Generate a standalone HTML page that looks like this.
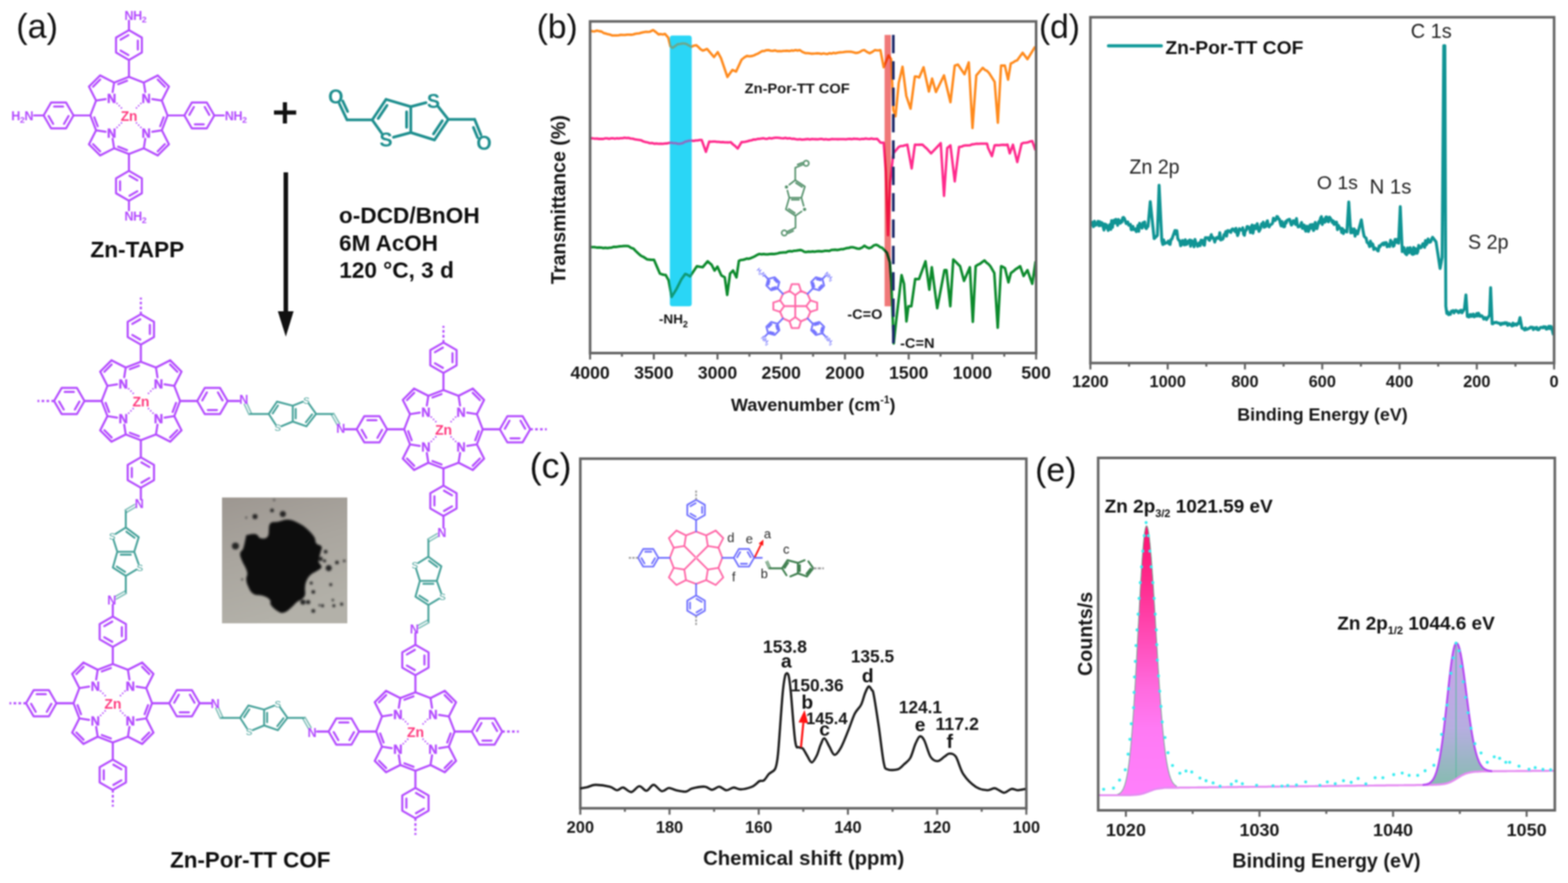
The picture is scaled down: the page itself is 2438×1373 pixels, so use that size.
<!DOCTYPE html>
<html><head><meta charset="utf-8"><title>Zn-Por-TT COF characterization</title>
<style>
html,body{margin:0;padding:0;background:#fff;}
body{width:2438px;height:1373px;overflow:hidden;}
svg{display:block;font-family:'Liberation Sans', Arial, Helvetica, sans-serif;filter:blur(1px);}
</style></head>
<body>
<svg width="2438" height="1373" viewBox="0 0 2438 1373">
<rect width="2438" height="1373" fill="#fff"/>
<text transform="translate(25.3,58.9) scale(1,1.0)" font-size="53.00" fill="#111">(a)</text>
<g transform="translate(200.50,179.50) rotate(0.00) scale(1.0000)">
<path d="M-25.4,-36.3 L-23.1,-51.1 M-36.3,-25.4 L-51.1,-23.1 M-23.1,-51.1 L-44.9,-62.2 M-44.9,-62.2 L-62.2,-44.9 M-62.2,-44.9 L-51.1,-23.1 M-23.1,-51.1 L0.0,-60.0 M-51.1,-23.1 L-60.0,0.0 M-44.7,-55.8 L-55.8,-44.7 M-16.8,-48.6 L-2.9,-53.9 M25.4,-36.3 L23.1,-51.1 M36.3,-25.4 L51.1,-23.1 M23.1,-51.1 L44.9,-62.2 M44.9,-62.2 L62.2,-44.9 M62.2,-44.9 L51.1,-23.1 M23.1,-51.1 L0.0,-60.0 M51.1,-23.1 L60.0,0.0 M44.7,-55.8 L55.8,-44.7 M-25.4,36.3 L-23.1,51.1 M-36.3,25.4 L-51.1,23.1 M-23.1,51.1 L-44.9,62.2 M-44.9,62.2 L-62.2,44.9 M-62.2,44.9 L-51.1,23.1 M-23.1,51.1 L0.0,60.0 M-51.1,23.1 L-60.0,0.0 M-44.7,55.8 L-55.8,44.7 M-48.6,16.8 L-53.9,2.9 M-16.8,48.6 L-2.9,53.9 M25.4,36.3 L23.1,51.1 M36.3,25.4 L51.1,23.1 M23.1,51.1 L44.9,62.2 M44.9,62.2 L62.2,44.9 M62.2,44.9 L51.1,23.1 M23.1,51.1 L0.0,60.0 M51.1,23.1 L60.0,0.0 M44.7,55.8 L55.8,44.7 M48.6,16.8 L53.9,2.9" fill="none" stroke="#b44cff" stroke-width="3.20" stroke-linecap="round" stroke-linejoin="round"/>
<path d="M0.0,-60.0 L0.0,-86.2 M0.0,-132.7 L20.1,-121.0 L20.1,-97.8 L0.0,-86.2 L-20.1,-97.8 L-20.1,-121.0Z M13.8,-116.4 L13.8,-102.4 M-0.9,-93.9 L-13.0,-100.9 M-13.0,-117.9 L-0.9,-124.9 M0.0,60.0 L0.0,86.2 M0.0,132.7 L-20.1,121.0 L-20.1,97.8 L-0.0,86.2 L20.1,97.8 L20.1,121.0Z M-13.8,116.4 L-13.8,102.4 M0.9,93.9 L13.0,100.9 M13.0,117.9 L0.9,124.9 M-60.0,0.0 L-86.2,0.0 M-132.7,0.0 L-121.0,-20.1 L-97.8,-20.1 L-86.2,-0.0 L-97.8,20.1 L-121.0,20.1Z M-116.4,-13.8 L-102.4,-13.8 M-93.9,0.9 L-100.9,13.0 M-117.9,13.0 L-124.9,0.9 M60.0,0.0 L86.2,0.0 M132.7,0.0 L121.0,20.1 L97.8,20.1 L86.2,0.0 L97.8,-20.1 L121.0,-20.1Z M116.4,13.8 L102.4,13.8 M93.9,-0.9 L100.9,-13.0 M117.9,-13.0 L124.9,-0.9" fill="none" stroke="#b44cff" stroke-width="3.20" stroke-linecap="round" stroke-linejoin="round"/>
<path d="M0.0,-132.7 L0.0,-147.5" fill="none" stroke="#b44cff" stroke-width="3.20" stroke-linecap="round"/>
<path d="M0.0,132.7 L0.0,147.5" fill="none" stroke="#b44cff" stroke-width="3.20" stroke-linecap="round"/>
<path d="M-132.7,0.0 L-147.5,0.0" fill="none" stroke="#b44cff" stroke-width="3.20" stroke-linecap="round"/>
<path d="M132.7,0.0 L147.5,0.0" fill="none" stroke="#b44cff" stroke-width="3.20" stroke-linecap="round"/>
<text x="-7.0" y="-149.0" font-size="19.5" font-weight="bold" fill="#b44cff" letter-spacing="-0.6">NH<tspan font-size="13.5" dy="4.5">2</tspan></text>
<text x="-7.0" y="163.0" font-size="19.5" font-weight="bold" fill="#b44cff" letter-spacing="-0.6">NH<tspan font-size="13.5" dy="4.5">2</tspan></text>
<text x="-149.0" y="7.0" font-size="19.5" font-weight="bold" text-anchor="end" fill="#b44cff" letter-spacing="-0.6">H<tspan font-size="13.5" dy="4.5">2</tspan><tspan dy="-4.5">N</tspan></text>
<text x="149.0" y="7.0" font-size="19.5" font-weight="bold" fill="#b44cff" letter-spacing="-0.6">NH<tspan font-size="13.5" dy="4.5">2</tspan></text>
<text x="-26.9" y="-19.4" font-size="19.5" text-anchor="middle" font-weight="bold" fill="#b44cff" stroke="#b44cff" stroke-width="0.6">N</text>
<path d="M-19.3,-19.3 L-9.7,-9.7" stroke="#b44cff" stroke-width="2.4" stroke-dasharray="2.2 2.6" fill="none"/>
<text x="26.9" y="-19.4" font-size="19.5" text-anchor="middle" font-weight="bold" fill="#b44cff" stroke="#b44cff" stroke-width="0.6">N</text>
<path d="M19.3,-19.3 L9.7,-9.7" stroke="#b44cff" stroke-width="2.4" stroke-dasharray="2.2 2.6" fill="none"/>
<text x="-26.9" y="34.4" font-size="19.5" text-anchor="middle" font-weight="bold" fill="#b44cff" stroke="#b44cff" stroke-width="0.6">N</text>
<path d="M-19.3,19.3 L-9.7,9.7" stroke="#b44cff" stroke-width="2.4" stroke-dasharray="2.2 2.6" fill="none"/>
<text x="26.9" y="34.4" font-size="19.5" text-anchor="middle" font-weight="bold" fill="#b44cff" stroke="#b44cff" stroke-width="0.6">N</text>
<path d="M19.3,19.3 L9.7,9.7" stroke="#b44cff" stroke-width="2.4" stroke-dasharray="2.2 2.6" fill="none"/>
<text x="0.0" y="8.2" font-size="21.5" text-anchor="middle" font-weight="bold" fill="#ff3d80" letter-spacing="-0.3">Zn</text>
</g>
<path d="M426,175 L460.5,175 M443,159 L443,192" stroke="#111" stroke-width="6.5" fill="none"/>
<path d="M539.5,186.4 L527.7,161.3 M540.5,173.3 L532.9,157.1 M539.5,186.4 L578.8,186.4 M578.8,186.4 L600.2,154.5 M600.2,154.5 L638.7,165.9 M638.7,165.9 L638.7,206.1 M578.8,186.4 L593.2,206.7 M611.8,213.4 L638.7,206.1 M638.7,165.9 L662.4,159.6 M681.4,165.9 L697.0,185.6 M697.0,185.6 L675.6,217.6 M675.6,217.6 L638.7,206.1 M697.0,185.6 L738.0,185.6 M738.0,185.6 L747.8,209.7 M736.1,198.2 L742.6,214.0 M588.0,184.3 L601.7,163.9 M632.2,173.9 L632.2,198.1 M687.7,187.7 L674.0,208.2" fill="none" stroke="#1f8f8f" stroke-width="4.30" stroke-linecap="round" stroke-linejoin="round"/>
<text x="600.2" y="228.0" font-size="30.5" text-anchor="middle" font-weight="bold" fill="#1f8f8f" >S</text>
<text x="674.0" y="168.0" font-size="30.5" text-anchor="middle" font-weight="bold" fill="#1f8f8f" >S</text>
<text x="522.2" y="161.0" font-size="30.5" text-anchor="middle" font-weight="bold" fill="#1f8f8f" >O</text>
<text x="752.7" y="233.2" font-size="30.5" text-anchor="middle" font-weight="bold" fill="#1f8f8f" >O</text>
<path d="M444.4,268 L444.4,488" stroke="#111" stroke-width="7" fill="none"/>
<path d="M432,484 L456.5,484 L444.4,523.5 Z" fill="#111"/>
<text x="527.1" y="347.2" font-size="35.16" font-weight="bold" fill="#0e0e0e" >o-DCD/BnOH</text>
<text x="527.3" y="390.0" font-size="34.84" font-weight="bold" fill="#0e0e0e" >6M AcOH</text>
<text x="527.4" y="431.7" font-size="35.19" font-weight="bold" fill="#0e0e0e" >120 °C, 3 d</text>
<text x="140.4" y="400.0" font-size="35.25" font-weight="bold" fill="#0e0e0e" >Zn-TAPP</text>
<g transform="translate(219.00,623.50) rotate(0.00) scale(1.0170)">
<path d="M-25.4,-36.3 L-23.1,-51.1 M-36.3,-25.4 L-51.1,-23.1 M-23.1,-51.1 L-44.9,-62.2 M-44.9,-62.2 L-62.2,-44.9 M-62.2,-44.9 L-51.1,-23.1 M-23.1,-51.1 L0.0,-60.0 M-51.1,-23.1 L-60.0,0.0 M-44.7,-55.8 L-55.8,-44.7 M-16.8,-48.6 L-2.9,-53.9 M25.4,-36.3 L23.1,-51.1 M36.3,-25.4 L51.1,-23.1 M23.1,-51.1 L44.9,-62.2 M44.9,-62.2 L62.2,-44.9 M62.2,-44.9 L51.1,-23.1 M23.1,-51.1 L0.0,-60.0 M51.1,-23.1 L60.0,0.0 M44.7,-55.8 L55.8,-44.7 M-25.4,36.3 L-23.1,51.1 M-36.3,25.4 L-51.1,23.1 M-23.1,51.1 L-44.9,62.2 M-44.9,62.2 L-62.2,44.9 M-62.2,44.9 L-51.1,23.1 M-23.1,51.1 L0.0,60.0 M-51.1,23.1 L-60.0,0.0 M-44.7,55.8 L-55.8,44.7 M-48.6,16.8 L-53.9,2.9 M-16.8,48.6 L-2.9,53.9 M25.4,36.3 L23.1,51.1 M36.3,25.4 L51.1,23.1 M23.1,51.1 L44.9,62.2 M44.9,62.2 L62.2,44.9 M62.2,44.9 L51.1,23.1 M23.1,51.1 L0.0,60.0 M51.1,23.1 L60.0,0.0 M44.7,55.8 L55.8,44.7 M48.6,16.8 L53.9,2.9" fill="none" stroke="#b44cff" stroke-width="3.20" stroke-linecap="round" stroke-linejoin="round"/>
<path d="M0.0,-60.0 L0.0,-86.2 M0.0,-132.7 L20.1,-121.0 L20.1,-97.8 L0.0,-86.2 L-20.1,-97.8 L-20.1,-121.0Z M13.8,-116.4 L13.8,-102.4 M-0.9,-93.9 L-13.0,-100.9 M-13.0,-117.9 L-0.9,-124.9 M-60.0,0.0 L-86.2,0.0 M-132.7,0.0 L-121.0,-20.1 L-97.8,-20.1 L-86.2,-0.0 L-97.8,20.1 L-121.0,20.1Z M-116.4,-13.8 L-102.4,-13.8 M-93.9,0.9 L-100.9,13.0 M-117.9,13.0 L-124.9,0.9 M60.0,0.0 L86.2,0.0 M132.7,0.0 L121.0,20.1 L97.8,20.1 L86.2,0.0 L97.8,-20.1 L121.0,-20.1Z M116.4,13.8 L102.4,13.8 M93.9,-0.9 L100.9,-13.0 M117.9,-13.0 L124.9,-0.9 M0.0,60.0 L0.0,86.2 M0.0,132.7 L-20.1,121.0 L-20.1,97.8 L-0.0,86.2 L20.1,97.8 L20.1,121.0Z M-13.8,116.4 L-13.8,102.4 M0.9,93.9 L13.0,100.9 M13.0,117.9 L0.9,124.9" fill="none" stroke="#b44cff" stroke-width="3.20" stroke-linecap="round" stroke-linejoin="round"/>
<path d="M0.0,-132.7 L0.0,-158.0" stroke="#b44cff" stroke-width="3.20" stroke-dasharray="4 3.5" fill="none"/>
<path d="M-132.7,0.0 L-158.0,0.0" stroke="#b44cff" stroke-width="3.20" stroke-dasharray="4 3.5" fill="none"/>
<path d="M132.7,0.0 L150.5,0.0" fill="none" stroke="#b44cff" stroke-width="3.20" stroke-linecap="round"/>
<path d="M0.0,132.7 L0.0,150.5" fill="none" stroke="#b44cff" stroke-width="3.20" stroke-linecap="round"/>
<text x="-26.9" y="-19.4" font-size="19.5" text-anchor="middle" font-weight="bold" fill="#b44cff" stroke="#b44cff" stroke-width="0.6">N</text>
<path d="M-19.3,-19.3 L-9.7,-9.7" stroke="#b44cff" stroke-width="2.4" stroke-dasharray="2.2 2.6" fill="none"/>
<text x="26.9" y="-19.4" font-size="19.5" text-anchor="middle" font-weight="bold" fill="#b44cff" stroke="#b44cff" stroke-width="0.6">N</text>
<path d="M19.3,-19.3 L9.7,-9.7" stroke="#b44cff" stroke-width="2.4" stroke-dasharray="2.2 2.6" fill="none"/>
<text x="-26.9" y="34.4" font-size="19.5" text-anchor="middle" font-weight="bold" fill="#b44cff" stroke="#b44cff" stroke-width="0.6">N</text>
<path d="M-19.3,19.3 L-9.7,9.7" stroke="#b44cff" stroke-width="2.4" stroke-dasharray="2.2 2.6" fill="none"/>
<text x="26.9" y="34.4" font-size="19.5" text-anchor="middle" font-weight="bold" fill="#b44cff" stroke="#b44cff" stroke-width="0.6">N</text>
<path d="M19.3,19.3 L9.7,9.7" stroke="#b44cff" stroke-width="2.4" stroke-dasharray="2.2 2.6" fill="none"/>
<text x="0.0" y="8.2" font-size="21.5" text-anchor="middle" font-weight="bold" fill="#ff3d80" letter-spacing="-0.3">Zn</text>
</g>
<g transform="translate(689.50,667.50) rotate(0.00) scale(1.0170)">
<path d="M-25.4,-36.3 L-23.1,-51.1 M-36.3,-25.4 L-51.1,-23.1 M-23.1,-51.1 L-44.9,-62.2 M-44.9,-62.2 L-62.2,-44.9 M-62.2,-44.9 L-51.1,-23.1 M-23.1,-51.1 L0.0,-60.0 M-51.1,-23.1 L-60.0,0.0 M-44.7,-55.8 L-55.8,-44.7 M-16.8,-48.6 L-2.9,-53.9 M25.4,-36.3 L23.1,-51.1 M36.3,-25.4 L51.1,-23.1 M23.1,-51.1 L44.9,-62.2 M44.9,-62.2 L62.2,-44.9 M62.2,-44.9 L51.1,-23.1 M23.1,-51.1 L0.0,-60.0 M51.1,-23.1 L60.0,0.0 M44.7,-55.8 L55.8,-44.7 M-25.4,36.3 L-23.1,51.1 M-36.3,25.4 L-51.1,23.1 M-23.1,51.1 L-44.9,62.2 M-44.9,62.2 L-62.2,44.9 M-62.2,44.9 L-51.1,23.1 M-23.1,51.1 L0.0,60.0 M-51.1,23.1 L-60.0,0.0 M-44.7,55.8 L-55.8,44.7 M-48.6,16.8 L-53.9,2.9 M-16.8,48.6 L-2.9,53.9 M25.4,36.3 L23.1,51.1 M36.3,25.4 L51.1,23.1 M23.1,51.1 L44.9,62.2 M44.9,62.2 L62.2,44.9 M62.2,44.9 L51.1,23.1 M23.1,51.1 L0.0,60.0 M51.1,23.1 L60.0,0.0 M44.7,55.8 L55.8,44.7 M48.6,16.8 L53.9,2.9" fill="none" stroke="#b44cff" stroke-width="3.20" stroke-linecap="round" stroke-linejoin="round"/>
<path d="M0.0,-60.0 L0.0,-86.2 M0.0,-132.7 L20.1,-121.0 L20.1,-97.8 L0.0,-86.2 L-20.1,-97.8 L-20.1,-121.0Z M13.8,-116.4 L13.8,-102.4 M-0.9,-93.9 L-13.0,-100.9 M-13.0,-117.9 L-0.9,-124.9 M60.0,0.0 L86.2,0.0 M132.7,0.0 L121.0,20.1 L97.8,20.1 L86.2,0.0 L97.8,-20.1 L121.0,-20.1Z M116.4,13.8 L102.4,13.8 M93.9,-0.9 L100.9,-13.0 M117.9,-13.0 L124.9,-0.9 M-60.0,0.0 L-86.2,0.0 M-132.7,0.0 L-121.0,-20.1 L-97.8,-20.1 L-86.2,-0.0 L-97.8,20.1 L-121.0,20.1Z M-116.4,-13.8 L-102.4,-13.8 M-93.9,0.9 L-100.9,13.0 M-117.9,13.0 L-124.9,0.9 M0.0,60.0 L0.0,86.2 M0.0,132.7 L-20.1,121.0 L-20.1,97.8 L-0.0,86.2 L20.1,97.8 L20.1,121.0Z M-13.8,116.4 L-13.8,102.4 M0.9,93.9 L13.0,100.9 M13.0,117.9 L0.9,124.9" fill="none" stroke="#b44cff" stroke-width="3.20" stroke-linecap="round" stroke-linejoin="round"/>
<path d="M0.0,-132.7 L0.0,-158.0" stroke="#b44cff" stroke-width="3.20" stroke-dasharray="4 3.5" fill="none"/>
<path d="M132.7,0.0 L158.0,0.0" stroke="#b44cff" stroke-width="3.20" stroke-dasharray="4 3.5" fill="none"/>
<path d="M-132.7,0.0 L-150.5,0.0" fill="none" stroke="#b44cff" stroke-width="3.20" stroke-linecap="round"/>
<path d="M0.0,132.7 L0.0,150.5" fill="none" stroke="#b44cff" stroke-width="3.20" stroke-linecap="round"/>
<text x="-26.9" y="-19.4" font-size="19.5" text-anchor="middle" font-weight="bold" fill="#b44cff" stroke="#b44cff" stroke-width="0.6">N</text>
<path d="M-19.3,-19.3 L-9.7,-9.7" stroke="#b44cff" stroke-width="2.4" stroke-dasharray="2.2 2.6" fill="none"/>
<text x="26.9" y="-19.4" font-size="19.5" text-anchor="middle" font-weight="bold" fill="#b44cff" stroke="#b44cff" stroke-width="0.6">N</text>
<path d="M19.3,-19.3 L9.7,-9.7" stroke="#b44cff" stroke-width="2.4" stroke-dasharray="2.2 2.6" fill="none"/>
<text x="-26.9" y="34.4" font-size="19.5" text-anchor="middle" font-weight="bold" fill="#b44cff" stroke="#b44cff" stroke-width="0.6">N</text>
<path d="M-19.3,19.3 L-9.7,9.7" stroke="#b44cff" stroke-width="2.4" stroke-dasharray="2.2 2.6" fill="none"/>
<text x="26.9" y="34.4" font-size="19.5" text-anchor="middle" font-weight="bold" fill="#b44cff" stroke="#b44cff" stroke-width="0.6">N</text>
<path d="M19.3,19.3 L9.7,9.7" stroke="#b44cff" stroke-width="2.4" stroke-dasharray="2.2 2.6" fill="none"/>
<text x="0.0" y="8.2" font-size="21.5" text-anchor="middle" font-weight="bold" fill="#ff3d80" letter-spacing="-0.3">Zn</text>
</g>
<g transform="translate(175.40,1093.50) rotate(0.00) scale(1.0170)">
<path d="M-25.4,-36.3 L-23.1,-51.1 M-36.3,-25.4 L-51.1,-23.1 M-23.1,-51.1 L-44.9,-62.2 M-44.9,-62.2 L-62.2,-44.9 M-62.2,-44.9 L-51.1,-23.1 M-23.1,-51.1 L0.0,-60.0 M-51.1,-23.1 L-60.0,0.0 M-44.7,-55.8 L-55.8,-44.7 M-16.8,-48.6 L-2.9,-53.9 M25.4,-36.3 L23.1,-51.1 M36.3,-25.4 L51.1,-23.1 M23.1,-51.1 L44.9,-62.2 M44.9,-62.2 L62.2,-44.9 M62.2,-44.9 L51.1,-23.1 M23.1,-51.1 L0.0,-60.0 M51.1,-23.1 L60.0,0.0 M44.7,-55.8 L55.8,-44.7 M-25.4,36.3 L-23.1,51.1 M-36.3,25.4 L-51.1,23.1 M-23.1,51.1 L-44.9,62.2 M-44.9,62.2 L-62.2,44.9 M-62.2,44.9 L-51.1,23.1 M-23.1,51.1 L0.0,60.0 M-51.1,23.1 L-60.0,0.0 M-44.7,55.8 L-55.8,44.7 M-48.6,16.8 L-53.9,2.9 M-16.8,48.6 L-2.9,53.9 M25.4,36.3 L23.1,51.1 M36.3,25.4 L51.1,23.1 M23.1,51.1 L44.9,62.2 M44.9,62.2 L62.2,44.9 M62.2,44.9 L51.1,23.1 M23.1,51.1 L0.0,60.0 M51.1,23.1 L60.0,0.0 M44.7,55.8 L55.8,44.7 M48.6,16.8 L53.9,2.9" fill="none" stroke="#b44cff" stroke-width="3.20" stroke-linecap="round" stroke-linejoin="round"/>
<path d="M-60.0,0.0 L-86.2,0.0 M-132.7,0.0 L-121.0,-20.1 L-97.8,-20.1 L-86.2,-0.0 L-97.8,20.1 L-121.0,20.1Z M-116.4,-13.8 L-102.4,-13.8 M-93.9,0.9 L-100.9,13.0 M-117.9,13.0 L-124.9,0.9 M0.0,60.0 L0.0,86.2 M0.0,132.7 L-20.1,121.0 L-20.1,97.8 L-0.0,86.2 L20.1,97.8 L20.1,121.0Z M-13.8,116.4 L-13.8,102.4 M0.9,93.9 L13.0,100.9 M13.0,117.9 L0.9,124.9 M0.0,-60.0 L0.0,-86.2 M0.0,-132.7 L20.1,-121.0 L20.1,-97.8 L0.0,-86.2 L-20.1,-97.8 L-20.1,-121.0Z M13.8,-116.4 L13.8,-102.4 M-0.9,-93.9 L-13.0,-100.9 M-13.0,-117.9 L-0.9,-124.9 M60.0,0.0 L86.2,0.0 M132.7,0.0 L121.0,20.1 L97.8,20.1 L86.2,0.0 L97.8,-20.1 L121.0,-20.1Z M116.4,13.8 L102.4,13.8 M93.9,-0.9 L100.9,-13.0 M117.9,-13.0 L124.9,-0.9" fill="none" stroke="#b44cff" stroke-width="3.20" stroke-linecap="round" stroke-linejoin="round"/>
<path d="M-132.7,0.0 L-158.0,0.0" stroke="#b44cff" stroke-width="3.20" stroke-dasharray="4 3.5" fill="none"/>
<path d="M0.0,132.7 L0.0,158.0" stroke="#b44cff" stroke-width="3.20" stroke-dasharray="4 3.5" fill="none"/>
<path d="M0.0,-132.7 L0.0,-150.5" fill="none" stroke="#b44cff" stroke-width="3.20" stroke-linecap="round"/>
<path d="M132.7,0.0 L150.5,0.0" fill="none" stroke="#b44cff" stroke-width="3.20" stroke-linecap="round"/>
<text x="-26.9" y="-19.4" font-size="19.5" text-anchor="middle" font-weight="bold" fill="#b44cff" stroke="#b44cff" stroke-width="0.6">N</text>
<path d="M-19.3,-19.3 L-9.7,-9.7" stroke="#b44cff" stroke-width="2.4" stroke-dasharray="2.2 2.6" fill="none"/>
<text x="26.9" y="-19.4" font-size="19.5" text-anchor="middle" font-weight="bold" fill="#b44cff" stroke="#b44cff" stroke-width="0.6">N</text>
<path d="M19.3,-19.3 L9.7,-9.7" stroke="#b44cff" stroke-width="2.4" stroke-dasharray="2.2 2.6" fill="none"/>
<text x="-26.9" y="34.4" font-size="19.5" text-anchor="middle" font-weight="bold" fill="#b44cff" stroke="#b44cff" stroke-width="0.6">N</text>
<path d="M-19.3,19.3 L-9.7,9.7" stroke="#b44cff" stroke-width="2.4" stroke-dasharray="2.2 2.6" fill="none"/>
<text x="26.9" y="34.4" font-size="19.5" text-anchor="middle" font-weight="bold" fill="#b44cff" stroke="#b44cff" stroke-width="0.6">N</text>
<path d="M19.3,19.3 L9.7,9.7" stroke="#b44cff" stroke-width="2.4" stroke-dasharray="2.2 2.6" fill="none"/>
<text x="0.0" y="8.2" font-size="21.5" text-anchor="middle" font-weight="bold" fill="#ff3d80" letter-spacing="-0.3">Zn</text>
</g>
<g transform="translate(645.90,1137.50) rotate(0.00) scale(1.0170)">
<path d="M-25.4,-36.3 L-23.1,-51.1 M-36.3,-25.4 L-51.1,-23.1 M-23.1,-51.1 L-44.9,-62.2 M-44.9,-62.2 L-62.2,-44.9 M-62.2,-44.9 L-51.1,-23.1 M-23.1,-51.1 L0.0,-60.0 M-51.1,-23.1 L-60.0,0.0 M-44.7,-55.8 L-55.8,-44.7 M-16.8,-48.6 L-2.9,-53.9 M25.4,-36.3 L23.1,-51.1 M36.3,-25.4 L51.1,-23.1 M23.1,-51.1 L44.9,-62.2 M44.9,-62.2 L62.2,-44.9 M62.2,-44.9 L51.1,-23.1 M23.1,-51.1 L0.0,-60.0 M51.1,-23.1 L60.0,0.0 M44.7,-55.8 L55.8,-44.7 M-25.4,36.3 L-23.1,51.1 M-36.3,25.4 L-51.1,23.1 M-23.1,51.1 L-44.9,62.2 M-44.9,62.2 L-62.2,44.9 M-62.2,44.9 L-51.1,23.1 M-23.1,51.1 L0.0,60.0 M-51.1,23.1 L-60.0,0.0 M-44.7,55.8 L-55.8,44.7 M-48.6,16.8 L-53.9,2.9 M-16.8,48.6 L-2.9,53.9 M25.4,36.3 L23.1,51.1 M36.3,25.4 L51.1,23.1 M23.1,51.1 L44.9,62.2 M44.9,62.2 L62.2,44.9 M62.2,44.9 L51.1,23.1 M23.1,51.1 L0.0,60.0 M51.1,23.1 L60.0,0.0 M44.7,55.8 L55.8,44.7 M48.6,16.8 L53.9,2.9" fill="none" stroke="#b44cff" stroke-width="3.20" stroke-linecap="round" stroke-linejoin="round"/>
<path d="M60.0,0.0 L86.2,0.0 M132.7,0.0 L121.0,20.1 L97.8,20.1 L86.2,0.0 L97.8,-20.1 L121.0,-20.1Z M116.4,13.8 L102.4,13.8 M93.9,-0.9 L100.9,-13.0 M117.9,-13.0 L124.9,-0.9 M0.0,60.0 L0.0,86.2 M0.0,132.7 L-20.1,121.0 L-20.1,97.8 L-0.0,86.2 L20.1,97.8 L20.1,121.0Z M-13.8,116.4 L-13.8,102.4 M0.9,93.9 L13.0,100.9 M13.0,117.9 L0.9,124.9 M0.0,-60.0 L0.0,-86.2 M0.0,-132.7 L20.1,-121.0 L20.1,-97.8 L0.0,-86.2 L-20.1,-97.8 L-20.1,-121.0Z M13.8,-116.4 L13.8,-102.4 M-0.9,-93.9 L-13.0,-100.9 M-13.0,-117.9 L-0.9,-124.9 M-60.0,0.0 L-86.2,0.0 M-132.7,0.0 L-121.0,-20.1 L-97.8,-20.1 L-86.2,-0.0 L-97.8,20.1 L-121.0,20.1Z M-116.4,-13.8 L-102.4,-13.8 M-93.9,0.9 L-100.9,13.0 M-117.9,13.0 L-124.9,0.9" fill="none" stroke="#b44cff" stroke-width="3.20" stroke-linecap="round" stroke-linejoin="round"/>
<path d="M132.7,0.0 L158.0,0.0" stroke="#b44cff" stroke-width="3.20" stroke-dasharray="4 3.5" fill="none"/>
<path d="M0.0,132.7 L0.0,158.0" stroke="#b44cff" stroke-width="3.20" stroke-dasharray="4 3.5" fill="none"/>
<path d="M0.0,-132.7 L0.0,-150.5" fill="none" stroke="#b44cff" stroke-width="3.20" stroke-linecap="round"/>
<path d="M-132.7,0.0 L-150.5,0.0" fill="none" stroke="#b44cff" stroke-width="3.20" stroke-linecap="round"/>
<text x="-26.9" y="-19.4" font-size="19.5" text-anchor="middle" font-weight="bold" fill="#b44cff" stroke="#b44cff" stroke-width="0.6">N</text>
<path d="M-19.3,-19.3 L-9.7,-9.7" stroke="#b44cff" stroke-width="2.4" stroke-dasharray="2.2 2.6" fill="none"/>
<text x="26.9" y="-19.4" font-size="19.5" text-anchor="middle" font-weight="bold" fill="#b44cff" stroke="#b44cff" stroke-width="0.6">N</text>
<path d="M19.3,-19.3 L9.7,-9.7" stroke="#b44cff" stroke-width="2.4" stroke-dasharray="2.2 2.6" fill="none"/>
<text x="-26.9" y="34.4" font-size="19.5" text-anchor="middle" font-weight="bold" fill="#b44cff" stroke="#b44cff" stroke-width="0.6">N</text>
<path d="M-19.3,19.3 L-9.7,9.7" stroke="#b44cff" stroke-width="2.4" stroke-dasharray="2.2 2.6" fill="none"/>
<text x="26.9" y="34.4" font-size="19.5" text-anchor="middle" font-weight="bold" fill="#b44cff" stroke="#b44cff" stroke-width="0.6">N</text>
<path d="M19.3,19.3 L9.7,9.7" stroke="#b44cff" stroke-width="2.4" stroke-dasharray="2.2 2.6" fill="none"/>
<text x="0.0" y="8.2" font-size="21.5" text-anchor="middle" font-weight="bold" fill="#ff3d80" letter-spacing="-0.3">Zn</text>
</g>
<path d="M389.0,643.7 L417.9,643.7 M417.9,643.7 L430.7,624.5 M430.7,624.5 L455.2,630.9 M455.2,630.9 L455.2,655.5 M417.9,643.7 L428.4,660.0 M437.3,662.8 L455.2,655.5 M455.2,630.9 L470.9,624.6 M480.0,627.3 L491.5,643.7 M491.5,643.7 L476.5,662.9 M476.5,662.9 L455.2,655.5 M491.5,643.7 L517.0,643.7 M424.0,642.8 L432.2,630.5 M459.8,635.8 L459.8,650.6 M485.2,644.3 L475.6,656.6" fill="none" stroke="#47a29a" stroke-width="3.00" stroke-linecap="round" stroke-linejoin="round"/>
<path d="M379.9,628.6 L387.1,644.6 M383.8,626.9 L390.9,642.8 M528.1,658.9 L518.8,642.7 M524.5,661.0 L515.2,644.7" fill="none" stroke="#47a29a" stroke-opacity="0.7" stroke-width="2.25" stroke-linecap="round"/>
<text x="431.7" y="670.4" font-size="15.0" text-anchor="middle" font-weight="normal" fill="#47a29a" >S</text>
<text x="476.5" y="627.8" font-size="15.0" text-anchor="middle" font-weight="normal" fill="#47a29a" >S</text>
<text x="379.0" y="628.4" font-size="19.5" text-anchor="middle" font-weight="bold" fill="#b44cff" >N</text>
<text x="529.8" y="673.0" font-size="19.5" text-anchor="middle" font-weight="bold" fill="#b44cff" >N</text>
<path d="M344.5,1116.2 L373.4,1116.2 M373.4,1116.2 L386.2,1097.0 M386.2,1097.0 L410.7,1103.4 M410.7,1103.4 L410.7,1128.0 M373.4,1116.2 L383.9,1132.5 M392.8,1135.3 L410.7,1128.0 M410.7,1103.4 L426.4,1097.1 M435.5,1099.8 L447.0,1116.2 M447.0,1116.2 L432.0,1135.4 M432.0,1135.4 L410.7,1128.0 M447.0,1116.2 L472.5,1116.2 M379.5,1115.3 L387.7,1103.0 M415.3,1108.3 L415.3,1123.1 M440.7,1116.8 L431.1,1129.1" fill="none" stroke="#47a29a" stroke-width="3.00" stroke-linecap="round" stroke-linejoin="round"/>
<path d="M335.4,1101.1 L342.6,1117.1 M339.3,1099.4 L346.4,1115.3 M483.6,1131.4 L474.3,1115.2 M480.0,1133.5 L470.7,1117.2" fill="none" stroke="#47a29a" stroke-opacity="0.7" stroke-width="2.25" stroke-linecap="round"/>
<text x="387.2" y="1142.9" font-size="15.0" text-anchor="middle" font-weight="normal" fill="#47a29a" >S</text>
<text x="432.0" y="1100.3" font-size="15.0" text-anchor="middle" font-weight="normal" fill="#47a29a" >S</text>
<text x="334.5" y="1100.9" font-size="19.5" text-anchor="middle" font-weight="bold" fill="#b44cff" >N</text>
<text x="485.3" y="1145.5" font-size="19.5" text-anchor="middle" font-weight="bold" fill="#b44cff" >N</text>
<path d="M195.6,795.0 L195.6,820.3 M195.6,820.3 L215.7,835.2 M215.7,835.2 L208.7,857.9 M208.7,857.9 L182.4,857.9 M195.6,820.3 L179.7,830.2 M176.4,839.1 L182.4,857.9 M208.7,857.9 L215.4,876.7 M212.3,885.5 L195.6,895.5 M195.6,895.5 L175.5,882.4 M175.5,882.4 L182.4,857.9 M195.6,895.5 L195.6,920.8 M196.5,826.7 L209.3,836.2 M203.4,862.5 L187.7,862.5 M194.5,889.3 L181.6,880.9" fill="none" stroke="#47a29a" stroke-width="3.00" stroke-linecap="round" stroke-linejoin="round"/>
<path d="M209.4,784.4 L194.5,793.2 M211.5,788.1 L196.7,796.8 M180.8,931.5 L196.6,922.6 M178.8,927.8 L194.6,919.0" fill="none" stroke="#47a29a" stroke-opacity="0.7" stroke-width="2.25" stroke-linecap="round"/>
<text x="174.6" y="838.8" font-size="15.0" text-anchor="middle" font-weight="normal" fill="#47a29a" >S</text>
<text x="217.4" y="887.8" font-size="15.0" text-anchor="middle" font-weight="normal" fill="#47a29a" >S</text>
<text x="216.5" y="789.7" font-size="19.5" text-anchor="middle" font-weight="bold" fill="#b44cff" >N</text>
<text x="173.7" y="940.1" font-size="19.5" text-anchor="middle" font-weight="bold" fill="#b44cff" >N</text>
<path d="M666.1,840.3 L666.1,865.6 M666.1,865.6 L686.2,880.5 M686.2,880.5 L679.2,903.2 M679.2,903.2 L652.9,903.2 M666.1,865.6 L650.2,875.5 M646.9,884.4 L652.9,903.2 M679.2,903.2 L685.9,922.0 M682.8,930.8 L666.1,940.8 M666.1,940.8 L646.0,927.7 M646.0,927.7 L652.9,903.2 M666.1,940.8 L666.1,966.1 M667.0,872.0 L679.8,881.5 M673.9,907.8 L658.2,907.8 M665.0,934.6 L652.1,926.2" fill="none" stroke="#47a29a" stroke-width="3.00" stroke-linecap="round" stroke-linejoin="round"/>
<path d="M679.9,829.7 L665.0,838.5 M682.0,833.4 L667.2,842.1 M651.3,976.8 L667.1,967.9 M649.3,973.1 L665.1,964.3" fill="none" stroke="#47a29a" stroke-opacity="0.7" stroke-width="2.25" stroke-linecap="round"/>
<text x="645.1" y="884.1" font-size="15.0" text-anchor="middle" font-weight="normal" fill="#47a29a" >S</text>
<text x="687.9" y="933.1" font-size="15.0" text-anchor="middle" font-weight="normal" fill="#47a29a" >S</text>
<text x="687.0" y="835.0" font-size="19.5" text-anchor="middle" font-weight="bold" fill="#b44cff" >N</text>
<text x="644.2" y="985.4" font-size="19.5" text-anchor="middle" font-weight="bold" fill="#b44cff" >N</text>
<defs><linearGradient id="phbg" x1="0" y1="0" x2="0.3" y2="1"><stop offset="0" stop-color="#9d9791"/><stop offset="0.5" stop-color="#aaa69f"/><stop offset="1" stop-color="#b3b1a9"/></linearGradient><filter id="blur1" x="-10%" y="-10%" width="120%" height="120%"><feGaussianBlur stdDeviation="1.6"/></filter></defs>
<rect x="345.2" y="773.6" width="194.8" height="195.6" fill="url(#phbg)"/>
<g filter="url(#blur1)">
<path d="M382.9,832.1 C385.8,831.8 392.8,829.6 397.3,830.5 C401.8,831.5 401.5,836.3 405.3,836.9 C409.2,837.6 413.7,838.2 416.6,833.7 C419.4,829.2 416.6,819.0 419.8,814.5 C423.0,810.0 426.8,812.6 432.6,811.3 C438.4,810.0 441.9,807.4 448.6,808.1 C455.3,808.7 460.1,811.3 466.2,814.5 C472.3,817.7 474.6,819.9 479.1,824.1 C483.6,828.3 486.1,831.2 488.7,835.3 C491.2,839.5 489.6,842.1 491.9,844.9 C494.1,847.8 498.6,846.9 499.9,849.8 C501.2,852.6 499.3,854.9 498.3,859.4 C497.3,863.9 494.8,867.7 495.1,872.2 C495.4,876.7 500.5,878.6 499.9,881.8 C499.3,885.0 495.1,886.0 491.9,888.2 C488.7,890.5 486.8,890.5 483.9,893.0 C481.0,895.6 479.4,897.2 477.5,901.0 C475.5,904.9 474.9,907.5 474.3,912.3 C473.6,917.1 475.2,921.2 474.3,925.1 C473.3,928.9 472.0,929.3 469.4,931.5 C466.9,933.7 464.6,933.7 461.4,936.3 C458.2,938.9 457.3,941.1 453.4,944.3 C449.6,947.5 446.4,951.1 442.2,952.3 C438.0,953.6 436.7,953.0 432.6,950.7 C428.4,948.5 423.9,944.6 421.4,941.1 C418.8,937.6 422.0,936.0 419.8,933.1 C417.5,930.2 415.3,928.6 410.1,926.7 C405.0,924.8 398.9,926.4 394.1,923.5 C389.3,920.6 388.3,916.8 386.1,912.3 C383.9,907.8 383.2,905.2 382.9,901.0 C382.6,896.9 384.8,895.3 384.5,891.4 C384.2,887.6 382.9,885.7 381.3,881.8 C379.7,878.0 378.1,876.4 376.5,872.2 C374.9,868.0 373.0,864.8 373.3,861.0 C373.6,857.1 376.5,857.1 378.1,853.0 C379.7,848.8 380.3,844.3 381.3,840.1 C382.3,836.0 382.6,833.7 382.9,832.1Z" fill="#0b0c10"/>
<circle cx="366.1" cy="849.0" r="5.6" fill="#15161a" fill-opacity="0.9"/>
<circle cx="396.5" cy="803.3" r="4.0" fill="#15161a" fill-opacity="0.9"/>
<circle cx="423.0" cy="793.7" r="2.9" fill="#15161a" fill-opacity="0.9"/>
<circle cx="439.8" cy="799.3" r="4.8" fill="#15161a" fill-opacity="0.9"/>
<circle cx="511.1" cy="883.4" r="4.8" fill="#15161a" fill-opacity="0.9"/>
<circle cx="506.3" cy="857.8" r="2.9" fill="#15161a" fill-opacity="0.9"/>
<circle cx="523.9" cy="874.6" r="2.9" fill="#15161a" fill-opacity="0.9"/>
<circle cx="535.2" cy="872.2" r="1.9" fill="#15161a" fill-opacity="0.9"/>
<circle cx="514.3" cy="909.1" r="2.4" fill="#15161a" fill-opacity="0.9"/>
<circle cx="487.1" cy="920.3" r="2.9" fill="#15161a" fill-opacity="0.9"/>
<circle cx="487.1" cy="949.9" r="2.9" fill="#15161a" fill-opacity="0.9"/>
<circle cx="501.5" cy="941.9" r="2.4" fill="#15161a" fill-opacity="0.9"/>
<circle cx="519.1" cy="941.9" r="2.4" fill="#15161a" fill-opacity="0.9"/>
<circle cx="531.2" cy="939.5" r="2.4" fill="#15161a" fill-opacity="0.9"/>
<circle cx="517.5" cy="933.1" r="1.9" fill="#15161a" fill-opacity="0.9"/>
<circle cx="471.0" cy="936.3" r="4.0" fill="#15161a" fill-opacity="0.9"/>
<circle cx="479.1" cy="936.3" r="3.2" fill="#15161a" fill-opacity="0.9"/>
<circle cx="483.9" cy="906.7" r="2.4" fill="#15161a" fill-opacity="0.9"/>
<circle cx="496.7" cy="941.1" r="1.6" fill="#15161a" fill-opacity="0.9"/>
<circle cx="498.3" cy="869.0" r="3.5" fill="#15161a" fill-opacity="0.9"/>
<circle cx="504.7" cy="872.2" r="2.4" fill="#15161a" fill-opacity="0.9"/>
<circle cx="426.2" cy="777.6" r="1.3" fill="#15161a" fill-opacity="0.9"/>
<circle cx="382.9" cy="804.9" r="1.3" fill="#15161a" fill-opacity="0.9"/>
<circle cx="376.5" cy="901.0" r="1.4" fill="#15161a" fill-opacity="0.9"/>
</g>
<text x="264.5" y="1349.0" font-size="34.79" font-weight="bold" fill="#0e0e0e" >Zn-Por-TT COF</text>
<text transform="translate(834.4,58.5) scale(1,1.0)" font-size="52.27" fill="#111">(b)</text>
<path d="M917.5,47.6 L921.1,48.6 L924.6,48.8 L928.2,47.6 L931.8,48.5 L935.1,49.0 L938.5,51.3 L941.8,52.2 L945.2,53.2 L948.5,53.8 L951.9,55.2 L955.2,55.2 L958.6,55.1 L962.0,54.9 L965.3,54.1 L968.6,54.3 L972.0,54.3 L975.1,53.8 L978.2,53.9 L981.3,54.0 L984.5,53.6 L987.6,52.6 L990.7,52.1 L993.8,51.8 L997.1,50.9 L1000.5,50.1 L1003.8,49.5 L1007.2,49.7 L1010.5,49.3 L1015.5,46.8 L1019.8,49.9 L1024.0,53.5 L1027.3,53.0 L1030.7,53.6 L1034.0,52.7 L1039.0,58.5 L1042.3,72.0 L1045.7,74.4 L1049.8,71.5 L1054.0,68.6 L1057.3,68.4 L1060.7,67.6 L1064.0,67.7 L1067.7,68.6 L1071.3,70.8 L1075.0,72.8 L1078.8,71.0 L1082.6,70.3 L1085.9,73.1 L1089.3,76.6 L1092.6,78.6 L1095.9,77.6 L1099.3,76.1 L1110.2,88.7 L1116.0,81.1 L1121.0,90.4 L1131.0,119.7 L1138.7,108.8 L1144.5,111.3 L1153.0,92.9 L1157.2,89.4 L1161.3,87.0 L1165.5,87.6 L1169.7,87.0 L1172.7,86.0 L1175.7,84.4 L1178.8,83.2 L1181.8,81.4 L1184.8,79.5 L1188.1,79.4 L1191.5,78.1 L1194.8,77.8 L1198.2,78.9 L1201.5,79.2 L1204.9,78.3 L1208.2,79.6 L1211.6,79.5 L1214.8,79.7 L1218.0,79.1 L1221.1,79.0 L1224.3,78.8 L1227.5,79.3 L1230.7,78.5 L1233.9,78.8 L1237.0,77.9 L1240.2,78.6 L1243.4,77.8 L1247.7,80.8 L1252.0,82.5 L1255.2,82.6 L1258.3,82.8 L1261.5,83.5 L1264.6,83.3 L1267.8,83.1 L1270.9,82.8 L1274.0,83.1 L1277.2,83.8 L1280.3,83.0 L1283.5,83.7 L1286.5,84.0 L1289.6,82.7 L1292.6,83.4 L1295.7,82.2 L1298.7,82.9 L1301.8,82.2 L1304.8,81.5 L1307.9,81.3 L1310.9,81.2 L1314.0,80.7 L1317.0,80.3 L1320.4,80.3 L1323.7,80.5 L1327.1,81.3 L1330.4,82.4 L1333.8,82.0 L1337.1,80.8 L1340.5,78.5 L1343.8,77.8 L1348.0,80.8 L1352.2,82.8 L1356.3,80.7 L1360.5,77.8 L1364.7,78.5 L1368.9,77.8 L1374.0,104.6 L1381.5,86.2 L1385.7,92.0 L1389.0,170.8 L1392.4,180.8 L1397.4,128.9 L1403.3,103.8 L1409.1,149.0 L1415.8,169.0 L1422.5,118.8 L1425.8,119.2 L1429.2,120.5 L1436.0,104.6 L1444.3,142.3 L1449.3,122.2 L1455.2,143.1 L1467.8,117.2 L1477.8,159.0 L1484.5,102.0 L1489.5,100.4 L1499.6,115.5 L1506.3,97.0 L1512.1,199.2 L1518.0,117.2 L1528.0,105.4 L1531.3,108.6 L1534.7,110.3 L1538.0,113.8 L1546.5,127.2 L1551.5,190.9 L1556.5,102.0 L1562.4,102.0 L1567.4,123.9 L1571.6,98.7 L1575.0,97.3 L1578.3,95.0 L1581.7,93.7 L1590.0,82.0 L1597.6,92.0 L1609.5,72.5" fill="none" stroke="#ff8a1c" stroke-width="3.8" stroke-linejoin="round"/>
<path d="M917.5,215.2 L921.0,215.0 L924.5,215.6 L928.0,215.5 L931.5,216.0 L935.0,216.0 L938.0,216.0 L941.0,215.2 L944.0,215.1 L947.0,215.9 L950.0,215.1 L953.0,215.0 L956.0,215.7 L959.0,215.0 L962.0,215.3 L965.0,214.8 L968.0,214.8 L971.0,214.1 L974.0,214.6 L977.0,214.3 L980.4,215.4 L983.7,215.7 L987.1,216.6 L990.4,217.2 L993.8,217.7 L997.1,218.2 L1000.5,220.0 L1003.8,220.8 L1007.2,221.5 L1010.5,222.7 L1013.9,222.3 L1017.2,223.5 L1020.6,223.1 L1023.9,223.6 L1027.3,223.5 L1030.6,223.6 L1034.0,223.1 L1037.3,223.0 L1040.7,222.1 L1044.0,221.9 L1047.3,222.7 L1050.7,222.6 L1054.1,223.6 L1057.4,223.5 L1061.3,222.6 L1065.3,220.3 L1069.2,219.4 L1072.3,218.7 L1075.4,218.6 L1078.5,219.2 L1081.7,218.4 L1084.8,218.3 L1087.9,217.7 L1091.0,217.7 L1097.6,236.1 L1102.7,220.2 L1105.7,220.3 L1108.8,220.2 L1111.8,220.2 L1114.8,220.6 L1117.8,220.7 L1120.9,221.1 L1123.9,220.9 L1126.9,221.3 L1129.9,221.3 L1133.0,221.5 L1136.0,221.0 L1139.7,224.5 L1143.3,227.3 L1147.0,231.0 L1153.0,221.0 L1156.1,220.8 L1159.2,220.3 L1162.4,219.6 L1165.5,218.6 L1168.6,218.1 L1171.8,216.9 L1174.9,217.0 L1178.0,216.0 L1181.1,215.9 L1184.1,215.4 L1187.2,215.0 L1190.2,215.8 L1193.3,215.8 L1196.3,214.6 L1199.4,215.3 L1202.4,214.7 L1205.5,214.2 L1208.5,214.2 L1211.6,214.3 L1214.8,214.8 L1218.0,215.2 L1221.2,214.4 L1224.4,215.3 L1227.6,214.8 L1230.8,215.8 L1234.0,215.6 L1237.2,216.4 L1240.4,216.8 L1243.6,216.4 L1246.8,217.2 L1250.0,216.8 L1253.1,216.5 L1256.2,216.2 L1259.3,216.8 L1262.4,216.1 L1265.5,216.3 L1268.6,216.5 L1271.7,216.7 L1274.8,216.2 L1277.9,216.0 L1281.0,216.9 L1284.1,216.3 L1287.2,217.0 L1290.3,216.9 L1293.5,216.2 L1296.6,216.3 L1299.7,216.4 L1302.8,216.5 L1305.9,216.4 L1309.0,216.3 L1312.1,216.4 L1315.2,216.7 L1318.3,216.2 L1321.4,216.0 L1324.5,216.4 L1327.6,215.7 L1330.7,215.8 L1333.8,216.0 L1336.8,216.6 L1339.8,216.0 L1342.9,216.1 L1345.9,215.4 L1348.9,215.9 L1351.9,216.1 L1354.9,215.4 L1358.0,216.1 L1361.0,216.2 L1364.0,216.0 L1369.0,221.8 L1374.0,221.8 L1377.3,267.0 L1380.7,365.8 L1384.0,283.8 L1389.0,238.5 L1397.4,228.5 L1400.8,227.1 L1404.1,226.9 L1407.5,225.8 L1410.8,225.0 L1417.5,262.0 L1422.5,225.0 L1426.4,225.2 L1430.4,224.8 L1434.3,225.0 L1437.7,228.2 L1441.0,231.0 L1447.7,238.5 L1462.7,222.6 L1467.8,304.7 L1472.8,230.2 L1477.8,226.0 L1484.5,282.0 L1491.2,228.5 L1494.5,228.2 L1497.9,226.7 L1501.2,226.1 L1504.6,226.2 L1508.0,225.9 L1511.3,224.5 L1514.7,224.1 L1518.0,223.5 L1521.4,223.6 L1524.7,223.3 L1528.1,223.3 L1531.4,223.3 L1534.8,223.5 L1536.4,230.2 L1542.3,242.7 L1546.5,226.0 L1549.8,225.7 L1553.2,225.8 L1556.5,225.3 L1559.9,225.2 L1563.2,225.5 L1566.6,225.0 L1570.0,238.5 L1575.0,225.0 L1581.7,252.0 L1588.4,223.5 L1591.7,222.1 L1595.0,221.9 L1598.4,221.3 L1601.7,219.9 L1605.0,219.3 L1610.0,233.5" fill="none" stroke="#ff2a8c" stroke-width="3.8" stroke-linejoin="round"/>
<path d="M917.5,384.3 L920.9,384.2 L924.3,384.2 L927.8,384.9 L931.2,384.8 L934.6,384.9 L938.0,385.8 L941.2,385.3 L944.5,385.7 L947.7,385.2 L951.0,384.9 L954.2,383.8 L957.5,383.9 L960.7,383.5 L964.0,383.0 L967.4,382.8 L970.7,382.5 L974.1,382.5 L977.4,382.8 L981.2,385.3 L985.0,386.6 L988.0,389.9 L991.0,392.7 L994.1,395.6 L997.1,398.0 L1000.1,399.3 L1003.2,401.3 L1006.2,403.3 L1009.8,403.7 L1013.3,404.1 L1016.9,404.0 L1021.4,414.6 L1026.0,425.3 L1029.0,426.5 L1032.0,427.3 L1035.0,427.5 L1039.6,435.9 L1044.2,461.7 L1051.8,449.5 L1059.4,434.4 L1065.4,426.0 L1069.2,427.3 L1073.0,429.8 L1083.6,413.9 L1086.6,414.5 L1089.7,415.1 L1092.7,415.4 L1100.3,406.3 L1103.3,409.0 L1106.4,411.6 L1111.0,420.7 L1115.5,414.6 L1121.6,428.3 L1126.9,431.3 L1130.7,458.6 L1135.2,425.3 L1139.8,420.7 L1145.1,431.3 L1148.9,405.5 L1151.9,404.3 L1155.0,404.0 L1158.0,403.3 L1161.0,402.0 L1164.0,402.4 L1167.1,401.5 L1170.1,400.2 L1173.7,398.5 L1177.2,396.4 L1180.8,394.9 L1184.0,395.5 L1187.3,395.0 L1190.5,395.4 L1193.8,395.4 L1197.0,394.9 L1200.3,394.8 L1203.5,394.9 L1206.5,394.6 L1209.6,393.9 L1212.6,393.0 L1215.7,392.8 L1218.7,392.6 L1221.9,392.6 L1225.2,391.0 L1228.4,390.5 L1231.6,390.9 L1234.8,389.9 L1238.0,389.8 L1241.3,389.2 L1244.5,388.8 L1247.5,389.6 L1250.6,391.6 L1253.6,391.9 L1256.9,391.3 L1260.3,391.4 L1263.7,391.0 L1267.0,391.4 L1270.3,390.7 L1273.7,390.6 L1277.1,391.0 L1280.4,390.5 L1283.4,389.9 L1286.5,390.0 L1289.5,390.2 L1292.5,388.7 L1295.6,388.4 L1298.6,388.3 L1301.6,388.8 L1304.6,388.3 L1307.7,387.4 L1310.7,387.5 L1313.7,386.6 L1316.8,385.8 L1319.8,385.6 L1322.9,384.4 L1325.9,384.4 L1329.4,385.4 L1333.0,386.5 L1336.5,386.7 L1340.3,385.0 L1344.1,382.1 L1347.5,384.4 L1351.0,386.0 L1354.8,384.8 L1358.5,381.7 L1362.3,380.6 L1365.3,381.8 L1368.4,384.3 L1371.4,385.2 L1379.0,392.8 L1383.6,408.0 L1385.8,438.3 L1389.6,534.0 L1393.4,499.0 L1401.8,427.7 L1405.6,441.3 L1409.4,499.8 L1412.4,476.2 L1417.0,476.2 L1423.0,433.7 L1426.0,434.1 L1429.0,433.7 L1439.0,406.4 L1445.0,450.4 L1448.8,415.5 L1457.2,479.3 L1468.5,420.0 L1471.6,420.0 L1477.6,476.2 L1482.2,403.4 L1492.8,414.0 L1498.9,436.8 L1508.0,415.5 L1512.6,500.5 L1517.0,414.0 L1520.5,411.6 L1523.9,410.1 L1527.3,407.4 L1530.8,405.0 L1533.8,408.4 L1536.9,410.7 L1539.9,414.0 L1546.0,424.6 L1551.3,509.6 L1556.6,414.0 L1559.6,415.1 L1562.6,417.0 L1568.0,439.0 L1571.8,424.6 L1575.4,421.9 L1579.0,418.8 L1582.6,416.5 L1586.2,414.0 L1591.5,429.2 L1597.5,420.0 L1605.0,441.3 L1610.2,406.4" fill="none" stroke="#0c8a2c" stroke-width="4.0" stroke-linejoin="round"/>
<defs><clipPath id="cband"><rect x="1041.5" y="55.2" width="34" height="421" rx="4"/></clipPath></defs>
<rect x="1041.5" y="55.2" width="34" height="421" rx="4" fill="#2ad6f6"/>
<g clip-path="url(#cband)"><path d="M917.5,47.6 L921.1,48.6 L924.6,48.8 L928.2,47.6 L931.8,48.5 L935.1,49.0 L938.5,51.3 L941.8,52.2 L945.2,53.2 L948.5,53.8 L951.9,55.2 L955.2,55.2 L958.6,55.1 L962.0,54.9 L965.3,54.1 L968.6,54.3 L972.0,54.3 L975.1,53.8 L978.2,53.9 L981.3,54.0 L984.5,53.6 L987.6,52.6 L990.7,52.1 L993.8,51.8 L997.1,50.9 L1000.5,50.1 L1003.8,49.5 L1007.2,49.7 L1010.5,49.3 L1015.5,46.8 L1019.8,49.9 L1024.0,53.5 L1027.3,53.0 L1030.7,53.6 L1034.0,52.7 L1039.0,58.5 L1042.3,72.0 L1045.7,74.4 L1049.8,71.5 L1054.0,68.6 L1057.3,68.4 L1060.7,67.6 L1064.0,67.7 L1067.7,68.6 L1071.3,70.8 L1075.0,72.8 L1078.8,71.0 L1082.6,70.3 L1085.9,73.1 L1089.3,76.6 L1092.6,78.6 L1095.9,77.6 L1099.3,76.1 L1110.2,88.7 L1116.0,81.1 L1121.0,90.4 L1131.0,119.7 L1138.7,108.8 L1144.5,111.3 L1153.0,92.9 L1157.2,89.4 L1161.3,87.0 L1165.5,87.6 L1169.7,87.0 L1172.7,86.0 L1175.7,84.4 L1178.8,83.2 L1181.8,81.4 L1184.8,79.5 L1188.1,79.4 L1191.5,78.1 L1194.8,77.8 L1198.2,78.9 L1201.5,79.2 L1204.9,78.3 L1208.2,79.6 L1211.6,79.5 L1214.8,79.7 L1218.0,79.1 L1221.1,79.0 L1224.3,78.8 L1227.5,79.3 L1230.7,78.5 L1233.9,78.8 L1237.0,77.9 L1240.2,78.6 L1243.4,77.8 L1247.7,80.8 L1252.0,82.5 L1255.2,82.6 L1258.3,82.8 L1261.5,83.5 L1264.6,83.3 L1267.8,83.1 L1270.9,82.8 L1274.0,83.1 L1277.2,83.8 L1280.3,83.0 L1283.5,83.7 L1286.5,84.0 L1289.6,82.7 L1292.6,83.4 L1295.7,82.2 L1298.7,82.9 L1301.8,82.2 L1304.8,81.5 L1307.9,81.3 L1310.9,81.2 L1314.0,80.7 L1317.0,80.3 L1320.4,80.3 L1323.7,80.5 L1327.1,81.3 L1330.4,82.4 L1333.8,82.0 L1337.1,80.8 L1340.5,78.5 L1343.8,77.8 L1348.0,80.8 L1352.2,82.8 L1356.3,80.7 L1360.5,77.8 L1364.7,78.5 L1368.9,77.8 L1374.0,104.6 L1381.5,86.2 L1385.7,92.0 L1389.0,170.8 L1392.4,180.8 L1397.4,128.9 L1403.3,103.8 L1409.1,149.0 L1415.8,169.0 L1422.5,118.8 L1425.8,119.2 L1429.2,120.5 L1436.0,104.6 L1444.3,142.3 L1449.3,122.2 L1455.2,143.1 L1467.8,117.2 L1477.8,159.0 L1484.5,102.0 L1489.5,100.4 L1499.6,115.5 L1506.3,97.0 L1512.1,199.2 L1518.0,117.2 L1528.0,105.4 L1531.3,108.6 L1534.7,110.3 L1538.0,113.8 L1546.5,127.2 L1551.5,190.9 L1556.5,102.0 L1562.4,102.0 L1567.4,123.9 L1571.6,98.7 L1575.0,97.3 L1578.3,95.0 L1581.7,93.7 L1590.0,82.0 L1597.6,92.0 L1609.5,72.5" fill="none" stroke="#6aa88e" stroke-width="3.8" stroke-linejoin="round"/><path d="M917.5,215.2 L921.0,215.0 L924.5,215.6 L928.0,215.5 L931.5,216.0 L935.0,216.0 L938.0,216.0 L941.0,215.2 L944.0,215.1 L947.0,215.9 L950.0,215.1 L953.0,215.0 L956.0,215.7 L959.0,215.0 L962.0,215.3 L965.0,214.8 L968.0,214.8 L971.0,214.1 L974.0,214.6 L977.0,214.3 L980.4,215.4 L983.7,215.7 L987.1,216.6 L990.4,217.2 L993.8,217.7 L997.1,218.2 L1000.5,220.0 L1003.8,220.8 L1007.2,221.5 L1010.5,222.7 L1013.9,222.3 L1017.2,223.5 L1020.6,223.1 L1023.9,223.6 L1027.3,223.5 L1030.6,223.6 L1034.0,223.1 L1037.3,223.0 L1040.7,222.1 L1044.0,221.9 L1047.3,222.7 L1050.7,222.6 L1054.1,223.6 L1057.4,223.5 L1061.3,222.6 L1065.3,220.3 L1069.2,219.4 L1072.3,218.7 L1075.4,218.6 L1078.5,219.2 L1081.7,218.4 L1084.8,218.3 L1087.9,217.7 L1091.0,217.7 L1097.6,236.1 L1102.7,220.2 L1105.7,220.3 L1108.8,220.2 L1111.8,220.2 L1114.8,220.6 L1117.8,220.7 L1120.9,221.1 L1123.9,220.9 L1126.9,221.3 L1129.9,221.3 L1133.0,221.5 L1136.0,221.0 L1139.7,224.5 L1143.3,227.3 L1147.0,231.0 L1153.0,221.0 L1156.1,220.8 L1159.2,220.3 L1162.4,219.6 L1165.5,218.6 L1168.6,218.1 L1171.8,216.9 L1174.9,217.0 L1178.0,216.0 L1181.1,215.9 L1184.1,215.4 L1187.2,215.0 L1190.2,215.8 L1193.3,215.8 L1196.3,214.6 L1199.4,215.3 L1202.4,214.7 L1205.5,214.2 L1208.5,214.2 L1211.6,214.3 L1214.8,214.8 L1218.0,215.2 L1221.2,214.4 L1224.4,215.3 L1227.6,214.8 L1230.8,215.8 L1234.0,215.6 L1237.2,216.4 L1240.4,216.8 L1243.6,216.4 L1246.8,217.2 L1250.0,216.8 L1253.1,216.5 L1256.2,216.2 L1259.3,216.8 L1262.4,216.1 L1265.5,216.3 L1268.6,216.5 L1271.7,216.7 L1274.8,216.2 L1277.9,216.0 L1281.0,216.9 L1284.1,216.3 L1287.2,217.0 L1290.3,216.9 L1293.5,216.2 L1296.6,216.3 L1299.7,216.4 L1302.8,216.5 L1305.9,216.4 L1309.0,216.3 L1312.1,216.4 L1315.2,216.7 L1318.3,216.2 L1321.4,216.0 L1324.5,216.4 L1327.6,215.7 L1330.7,215.8 L1333.8,216.0 L1336.8,216.6 L1339.8,216.0 L1342.9,216.1 L1345.9,215.4 L1348.9,215.9 L1351.9,216.1 L1354.9,215.4 L1358.0,216.1 L1361.0,216.2 L1364.0,216.0 L1369.0,221.8 L1374.0,221.8 L1377.3,267.0 L1380.7,365.8 L1384.0,283.8 L1389.0,238.5 L1397.4,228.5 L1400.8,227.1 L1404.1,226.9 L1407.5,225.8 L1410.8,225.0 L1417.5,262.0 L1422.5,225.0 L1426.4,225.2 L1430.4,224.8 L1434.3,225.0 L1437.7,228.2 L1441.0,231.0 L1447.7,238.5 L1462.7,222.6 L1467.8,304.7 L1472.8,230.2 L1477.8,226.0 L1484.5,282.0 L1491.2,228.5 L1494.5,228.2 L1497.9,226.7 L1501.2,226.1 L1504.6,226.2 L1508.0,225.9 L1511.3,224.5 L1514.7,224.1 L1518.0,223.5 L1521.4,223.6 L1524.7,223.3 L1528.1,223.3 L1531.4,223.3 L1534.8,223.5 L1536.4,230.2 L1542.3,242.7 L1546.5,226.0 L1549.8,225.7 L1553.2,225.8 L1556.5,225.3 L1559.9,225.2 L1563.2,225.5 L1566.6,225.0 L1570.0,238.5 L1575.0,225.0 L1581.7,252.0 L1588.4,223.5 L1591.7,222.1 L1595.0,221.9 L1598.4,221.3 L1601.7,219.9 L1605.0,219.3 L1610.0,233.5" fill="none" stroke="#8a70c4" stroke-width="3.8" stroke-linejoin="round"/><path d="M917.5,384.3 L920.9,384.2 L924.3,384.2 L927.8,384.9 L931.2,384.8 L934.6,384.9 L938.0,385.8 L941.2,385.3 L944.5,385.7 L947.7,385.2 L951.0,384.9 L954.2,383.8 L957.5,383.9 L960.7,383.5 L964.0,383.0 L967.4,382.8 L970.7,382.5 L974.1,382.5 L977.4,382.8 L981.2,385.3 L985.0,386.6 L988.0,389.9 L991.0,392.7 L994.1,395.6 L997.1,398.0 L1000.1,399.3 L1003.2,401.3 L1006.2,403.3 L1009.8,403.7 L1013.3,404.1 L1016.9,404.0 L1021.4,414.6 L1026.0,425.3 L1029.0,426.5 L1032.0,427.3 L1035.0,427.5 L1039.6,435.9 L1044.2,461.7 L1051.8,449.5 L1059.4,434.4 L1065.4,426.0 L1069.2,427.3 L1073.0,429.8 L1083.6,413.9 L1086.6,414.5 L1089.7,415.1 L1092.7,415.4 L1100.3,406.3 L1103.3,409.0 L1106.4,411.6 L1111.0,420.7 L1115.5,414.6 L1121.6,428.3 L1126.9,431.3 L1130.7,458.6 L1135.2,425.3 L1139.8,420.7 L1145.1,431.3 L1148.9,405.5 L1151.9,404.3 L1155.0,404.0 L1158.0,403.3 L1161.0,402.0 L1164.0,402.4 L1167.1,401.5 L1170.1,400.2 L1173.7,398.5 L1177.2,396.4 L1180.8,394.9 L1184.0,395.5 L1187.3,395.0 L1190.5,395.4 L1193.8,395.4 L1197.0,394.9 L1200.3,394.8 L1203.5,394.9 L1206.5,394.6 L1209.6,393.9 L1212.6,393.0 L1215.7,392.8 L1218.7,392.6 L1221.9,392.6 L1225.2,391.0 L1228.4,390.5 L1231.6,390.9 L1234.8,389.9 L1238.0,389.8 L1241.3,389.2 L1244.5,388.8 L1247.5,389.6 L1250.6,391.6 L1253.6,391.9 L1256.9,391.3 L1260.3,391.4 L1263.7,391.0 L1267.0,391.4 L1270.3,390.7 L1273.7,390.6 L1277.1,391.0 L1280.4,390.5 L1283.4,389.9 L1286.5,390.0 L1289.5,390.2 L1292.5,388.7 L1295.6,388.4 L1298.6,388.3 L1301.6,388.8 L1304.6,388.3 L1307.7,387.4 L1310.7,387.5 L1313.7,386.6 L1316.8,385.8 L1319.8,385.6 L1322.9,384.4 L1325.9,384.4 L1329.4,385.4 L1333.0,386.5 L1336.5,386.7 L1340.3,385.0 L1344.1,382.1 L1347.5,384.4 L1351.0,386.0 L1354.8,384.8 L1358.5,381.7 L1362.3,380.6 L1365.3,381.8 L1368.4,384.3 L1371.4,385.2 L1379.0,392.8 L1383.6,408.0 L1385.8,438.3 L1389.6,534.0 L1393.4,499.0 L1401.8,427.7 L1405.6,441.3 L1409.4,499.8 L1412.4,476.2 L1417.0,476.2 L1423.0,433.7 L1426.0,434.1 L1429.0,433.7 L1439.0,406.4 L1445.0,450.4 L1448.8,415.5 L1457.2,479.3 L1468.5,420.0 L1471.6,420.0 L1477.6,476.2 L1482.2,403.4 L1492.8,414.0 L1498.9,436.8 L1508.0,415.5 L1512.6,500.5 L1517.0,414.0 L1520.5,411.6 L1523.9,410.1 L1527.3,407.4 L1530.8,405.0 L1533.8,408.4 L1536.9,410.7 L1539.9,414.0 L1546.0,424.6 L1551.3,509.6 L1556.6,414.0 L1559.6,415.1 L1562.6,417.0 L1568.0,439.0 L1571.8,424.6 L1575.4,421.9 L1579.0,418.8 L1582.6,416.5 L1586.2,414.0 L1591.5,429.2 L1597.5,420.0 L1605.0,441.3 L1610.2,406.4" fill="none" stroke="#0f9a78" stroke-width="4.0" stroke-linejoin="round"/></g>
<rect x="1375.4" y="54.3" width="9.8" height="422" fill="#f07878" style="mix-blend-mode:multiply"/>
<path d="M1389,54.3 L1389,545" stroke="#1d2a6a" stroke-width="4.2" stroke-dasharray="28.5 12.5" fill="none"/>
<path d="M1236.9,354.1 L1225.1,359.6 M1233.3,359.1 L1225.7,362.7 M1236.9,354.1 L1236.9,335.6 M1236.9,335.6 L1221.9,325.5 M1221.9,325.5 L1227.2,307.4 M1227.2,307.4 L1246.1,307.4 M1236.9,335.6 L1246.4,328.8 M1249.6,320.1 L1246.1,307.4 M1227.2,307.4 L1224.3,296.3 M1227.2,287.3 L1236.5,280.0 M1236.5,280.0 L1251.5,290.1 M1251.5,290.1 L1246.1,307.4 M1236.5,280.0 L1236.5,260.8 M1236.5,260.8 L1247.8,256.2 M1240.1,256.0 L1247.6,253.0 M1235.9,331.2 L1226.3,324.8 M1231.0,310.5 L1242.4,310.5 M1237.5,284.4 L1247.1,290.8" fill="none" stroke="#53906a" stroke-width="2.50" stroke-linecap="round" stroke-linejoin="round"/>
<circle cx="1219.5" cy="362.2" r="4.1" fill="none" stroke="#53906a" stroke-width="2.50"/>
<circle cx="1253.5" cy="253.9" r="4.1" fill="none" stroke="#53906a" stroke-width="2.50"/>
<circle cx="1251.0" cy="325.5" r="2.5" fill="#53906a"/>
<circle cx="1222.8" cy="290.8" r="2.5" fill="#53906a"/>
<g transform="translate(1236.50,476.00) rotate(45.00) scale(0.4500)">
<path d="M-26.9,-26.9 L-23.1,-51.1 M-26.9,-26.9 L-51.1,-23.1 M-23.1,-51.1 L-44.9,-62.2 M-44.9,-62.2 L-62.2,-44.9 M-62.2,-44.9 L-51.1,-23.1 M-23.1,-51.1 L0.0,-60.0 M-51.1,-23.1 L-60.0,0.0 M-26.9,-26.9 L-2.1,-2.1 M26.9,-26.9 L23.1,-51.1 M26.9,-26.9 L51.1,-23.1 M23.1,-51.1 L44.9,-62.2 M44.9,-62.2 L62.2,-44.9 M62.2,-44.9 L51.1,-23.1 M23.1,-51.1 L0.0,-60.0 M51.1,-23.1 L60.0,0.0 M26.9,-26.9 L2.1,-2.1 M-26.9,26.9 L-23.1,51.1 M-26.9,26.9 L-51.1,23.1 M-23.1,51.1 L-44.9,62.2 M-44.9,62.2 L-62.2,44.9 M-62.2,44.9 L-51.1,23.1 M-23.1,51.1 L0.0,60.0 M-51.1,23.1 L-60.0,0.0 M-26.9,26.9 L-2.1,2.1 M26.9,26.9 L23.1,51.1 M26.9,26.9 L51.1,23.1 M23.1,51.1 L44.9,62.2 M44.9,62.2 L62.2,44.9 M62.2,44.9 L51.1,23.1 M23.1,51.1 L0.0,60.0 M51.1,23.1 L60.0,0.0 M26.9,26.9 L2.1,2.1" fill="none" stroke="#ff68a8" stroke-width="6.40" stroke-linecap="round" stroke-linejoin="round"/>
<path d="M0.0,-60.0 L0.0,-86.2 M0.0,-132.7 L20.1,-121.0 L20.1,-97.8 L0.0,-86.2 L-20.1,-97.8 L-20.1,-121.0Z M13.8,-116.4 L13.8,-102.4 M-0.9,-93.9 L-13.0,-100.9 M-13.0,-117.9 L-0.9,-124.9 M0.0,60.0 L0.0,86.2 M0.0,132.7 L-20.1,121.0 L-20.1,97.8 L-0.0,86.2 L20.1,97.8 L20.1,121.0Z M-13.8,116.4 L-13.8,102.4 M0.9,93.9 L13.0,100.9 M13.0,117.9 L0.9,124.9 M-60.0,0.0 L-86.2,0.0 M-132.7,0.0 L-121.0,-20.1 L-97.8,-20.1 L-86.2,-0.0 L-97.8,20.1 L-121.0,20.1Z M-116.4,-13.8 L-102.4,-13.8 M-93.9,0.9 L-100.9,13.0 M-117.9,13.0 L-124.9,0.9 M60.0,0.0 L86.2,0.0 M132.7,0.0 L121.0,20.1 L97.8,20.1 L86.2,0.0 L97.8,-20.1 L121.0,-20.1Z M116.4,13.8 L102.4,13.8 M93.9,-0.9 L100.9,-13.0 M117.9,-13.0 L124.9,-0.9" fill="none" stroke="#7474ff" stroke-width="6.40" stroke-linecap="round" stroke-linejoin="round"/>
<path d="M0.0,-132.7 L0.0,-147.5" fill="none" stroke="#7474ff" stroke-width="6.40" stroke-linecap="round"/>
<path d="M0.0,132.7 L0.0,147.5" fill="none" stroke="#7474ff" stroke-width="6.40" stroke-linecap="round"/>
<path d="M-132.7,0.0 L-147.5,0.0" fill="none" stroke="#7474ff" stroke-width="6.40" stroke-linecap="round"/>
<path d="M132.7,0.0 L147.5,0.0" fill="none" stroke="#7474ff" stroke-width="6.40" stroke-linecap="round"/>
<text x="-7.0" y="-149.0" font-size="19.5" font-weight="bold" fill="#7474ff" letter-spacing="-0.6">NH<tspan font-size="13.5" dy="4.5">2</tspan></text>
<text x="-7.0" y="163.0" font-size="19.5" font-weight="bold" fill="#7474ff" letter-spacing="-0.6">NH<tspan font-size="13.5" dy="4.5">2</tspan></text>
<text x="-149.0" y="7.0" font-size="19.5" font-weight="bold" text-anchor="end" fill="#7474ff" letter-spacing="-0.6">H<tspan font-size="13.5" dy="4.5">2</tspan><tspan dy="-4.5">N</tspan></text>
<text x="149.0" y="7.0" font-size="19.5" font-weight="bold" fill="#7474ff" letter-spacing="-0.6">NH<tspan font-size="13.5" dy="4.5">2</tspan></text>
</g>
<rect x="917.5" y="33.3" width="693.5" height="515.7" fill="none" stroke="#646464" stroke-width="4.0"/>
<path d="M917.5,549.0 L917.5,559.0 M1016.6,549.0 L1016.6,559.0 M1115.6,549.0 L1115.6,559.0 M1214.7,549.0 L1214.7,559.0 M1313.8,549.0 L1313.8,559.0 M1412.9,549.0 L1412.9,559.0 M1511.9,549.0 L1511.9,559.0 M1611.0,549.0 L1611.0,559.0 M967.0,549.0 L967.0,554.5 M1066.1,549.0 L1066.1,554.5 M1165.2,549.0 L1165.2,554.5 M1264.2,549.0 L1264.2,554.5 M1363.3,549.0 L1363.3,554.5 M1462.4,549.0 L1462.4,554.5 M1561.5,549.0 L1561.5,554.5" stroke="#646464" stroke-width="3.2" fill="none"/>
<text x="917.5" y="588.5" font-size="27.5" font-weight="bold" text-anchor="middle" fill="#161616">4000</text>
<text x="1016.6" y="588.5" font-size="27.5" font-weight="bold" text-anchor="middle" fill="#161616">3500</text>
<text x="1115.6" y="588.5" font-size="27.5" font-weight="bold" text-anchor="middle" fill="#161616">3000</text>
<text x="1214.7" y="588.5" font-size="27.5" font-weight="bold" text-anchor="middle" fill="#161616">2500</text>
<text x="1313.8" y="588.5" font-size="27.5" font-weight="bold" text-anchor="middle" fill="#161616">2000</text>
<text x="1412.9" y="588.5" font-size="27.5" font-weight="bold" text-anchor="middle" fill="#161616">1500</text>
<text x="1511.9" y="588.5" font-size="27.5" font-weight="bold" text-anchor="middle" fill="#161616">1000</text>
<text x="1611.0" y="588.5" font-size="27.5" font-weight="bold" text-anchor="middle" fill="#161616">500</text>
<text transform="translate(879.3,441.8) rotate(-90)" font-size="30.51" font-weight="bold" fill="#161616">Transmittance (%)</text>
<text x="1136.5" y="638.8" font-size="28" font-weight="bold" fill="#161616">Wavenumber (cm<tspan font-size="16" dy="-12">-1</tspan><tspan dy="12">)</tspan></text>
<text x="1157.8" y="144.9" font-size="22.82" font-weight="bold" fill="#161616" >Zn-Por-TT COF</text>
<text x="1024.5" y="502.7" font-size="21" font-weight="bold" fill="#161616">-NH<tspan font-size="14" dy="6">2</tspan></text>
<text x="1317.6" y="496.0" font-size="22.48" font-weight="bold" fill="#161616" >-C=O</text>
<text x="1399.6" y="540.7" font-size="22.62" font-weight="bold" fill="#161616" >-C=N</text>
<text transform="translate(823.4,742.7) scale(1,1.0)" font-size="55.98" fill="#111">(c)</text>
<rect x="902.3" y="713.2" width="693.5" height="543.6" fill="none" stroke="#646464" stroke-width="4.0"/>
<path d="M902.3,1256.8 L902.3,1266.8 M1041.0,1256.8 L1041.0,1266.8 M1179.7,1256.8 L1179.7,1266.8 M1318.4,1256.8 L1318.4,1266.8 M1457.1,1256.8 L1457.1,1266.8 M1595.8,1256.8 L1595.8,1266.8 M971.6,1256.8 L971.6,1262.3 M1110.3,1256.8 L1110.3,1262.3 M1249.0,1256.8 L1249.0,1262.3 M1387.8,1256.8 L1387.8,1262.3 M1526.4,1256.8 L1526.4,1262.3" stroke="#646464" stroke-width="3.2" fill="none"/>
<text x="902.3" y="1294.5" font-size="25.5" font-weight="bold" text-anchor="middle" fill="#161616">200</text>
<text x="1041.0" y="1294.5" font-size="25.5" font-weight="bold" text-anchor="middle" fill="#161616">180</text>
<text x="1179.7" y="1294.5" font-size="25.5" font-weight="bold" text-anchor="middle" fill="#161616">160</text>
<text x="1318.4" y="1294.5" font-size="25.5" font-weight="bold" text-anchor="middle" fill="#161616">140</text>
<text x="1457.1" y="1294.5" font-size="25.5" font-weight="bold" text-anchor="middle" fill="#161616">120</text>
<text x="1595.8" y="1294.5" font-size="25.5" font-weight="bold" text-anchor="middle" fill="#161616">100</text>
<text x="1093.2" y="1344.6" font-size="31.63" font-weight="bold" fill="#161616" >Chemical shift (ppm)</text>
<path d="M902.0,1226.0 C903.9,1225.7 909.1,1224.8 913.1,1223.9 C917.1,1223.0 919.9,1220.5 925.7,1220.4 C931.5,1220.3 942.4,1221.8 948.0,1223.2 C953.6,1224.6 955.7,1228.6 959.2,1228.8 C962.7,1229.0 965.2,1224.1 968.9,1224.6 C972.6,1225.1 977.3,1231.9 981.5,1231.6 C985.7,1231.2 990.0,1222.8 994.0,1222.5 C998.0,1222.2 1001.5,1229.8 1005.2,1229.5 C1008.9,1229.2 1012.3,1220.3 1016.3,1220.4 C1020.2,1220.5 1025.0,1229.4 1028.9,1230.2 C1032.9,1231.0 1036.3,1225.5 1040.0,1225.3 C1043.7,1225.1 1046.8,1227.9 1051.2,1228.8 C1055.6,1229.7 1062.3,1231.4 1066.5,1230.9 C1070.7,1230.4 1071.4,1227.3 1076.3,1226.0 C1081.2,1224.7 1090.7,1222.9 1095.8,1223.2 C1100.9,1223.5 1103.3,1228.1 1107.0,1228.1 C1110.7,1228.1 1114.5,1223.1 1118.2,1223.2 C1121.9,1223.3 1125.6,1228.6 1129.3,1228.8 C1133.0,1229.0 1136.8,1224.8 1140.5,1224.6 C1144.2,1224.4 1147.0,1227.5 1151.6,1227.4 C1156.2,1227.3 1163.9,1225.3 1167.9,1223.9 C1171.9,1222.5 1173.4,1220.6 1175.6,1219.0 C1177.8,1217.4 1178.9,1215.5 1181.0,1214.5 C1183.1,1213.5 1185.6,1215.1 1188.0,1213.3 C1190.4,1211.5 1192.7,1206.4 1195.5,1203.5 C1198.3,1200.6 1202.8,1199.9 1205.0,1196.0 C1207.2,1192.1 1207.7,1187.7 1208.8,1180.0 C1209.9,1172.3 1210.2,1167.0 1211.5,1150.0 C1212.8,1133.0 1215.4,1094.6 1216.9,1078.3 C1218.4,1062.0 1219.4,1057.2 1220.5,1052.0 C1221.6,1046.8 1222.7,1046.9 1223.7,1046.9 C1224.7,1046.9 1225.5,1047.3 1226.5,1052.0 C1227.5,1056.7 1227.8,1058.2 1229.5,1075.0 C1231.2,1091.8 1234.3,1138.5 1236.5,1153.0 C1238.7,1167.5 1240.4,1160.2 1242.4,1162.0 C1244.4,1163.8 1246.2,1161.7 1248.3,1163.9 C1250.4,1166.1 1252.7,1171.4 1255.0,1175.0 C1257.3,1178.6 1259.6,1185.5 1262.1,1185.5 C1264.6,1185.5 1267.7,1179.3 1270.0,1174.7 C1272.3,1170.1 1274.0,1162.4 1276.0,1158.0 C1278.0,1153.6 1279.5,1147.6 1281.8,1148.1 C1284.1,1148.6 1287.0,1156.7 1289.6,1161.0 C1292.2,1165.3 1294.5,1173.4 1297.5,1173.7 C1300.5,1174.0 1303.7,1169.3 1307.3,1162.9 C1310.9,1156.5 1315.5,1144.2 1319.1,1135.4 C1322.7,1126.6 1325.7,1116.4 1329.0,1109.8 C1332.3,1103.2 1336.1,1101.3 1338.8,1096.0 C1341.5,1090.7 1343.0,1082.8 1345.0,1078.0 C1347.0,1073.2 1348.8,1068.3 1350.6,1067.5 C1352.3,1066.7 1354.2,1070.9 1355.5,1073.0 C1356.8,1075.1 1356.7,1070.9 1358.5,1080.3 C1360.3,1089.7 1363.7,1111.8 1366.3,1129.5 C1368.9,1147.2 1371.9,1175.4 1374.2,1186.5 C1376.5,1197.6 1376.5,1194.7 1380.1,1196.3 C1383.7,1197.9 1391.5,1197.6 1395.8,1196.3 C1400.0,1195.0 1402.3,1191.5 1405.6,1188.5 C1408.9,1185.5 1412.5,1183.8 1415.4,1178.5 C1418.3,1173.2 1420.8,1162.6 1423.2,1157.0 C1425.7,1151.4 1427.8,1146.1 1430.1,1145.1 C1432.4,1144.1 1434.2,1145.8 1437.0,1151.0 C1439.8,1156.2 1443.4,1171.2 1446.8,1176.6 C1450.2,1182.0 1454.0,1183.5 1457.6,1183.5 C1461.2,1183.5 1465.4,1178.6 1468.5,1176.6 C1471.6,1174.6 1473.3,1171.7 1476.3,1171.7 C1479.2,1171.7 1482.6,1171.2 1486.2,1176.6 C1489.8,1182.0 1492.8,1196.2 1498.0,1204.1 C1503.2,1212.0 1511.4,1219.7 1517.6,1223.8 C1523.8,1227.9 1530.4,1228.4 1535.3,1228.7 C1540.2,1229.0 1542.7,1225.1 1547.0,1225.7 C1551.3,1226.3 1556.6,1232.4 1560.9,1232.6 C1565.2,1232.8 1569.0,1227.3 1572.6,1226.7 C1576.2,1226.1 1578.9,1228.7 1582.5,1228.7 C1586.1,1228.7 1592.3,1227.0 1594.3,1226.7" fill="none" stroke="#1c1c1c" stroke-width="3.6" stroke-linejoin="round"/>
<text x="1186.3" y="1015.4" font-size="27.30" font-weight="bold" fill="#161616" >153.8</text>
<text x="1229.5" y="1075.4" font-size="26.88" font-weight="bold" fill="#161616" >150.36</text>
<text x="1253.2" y="1125.5" font-size="25.83" font-weight="bold" fill="#161616" >145.4</text>
<text x="1322.9" y="1030.1" font-size="26.92" font-weight="bold" fill="#161616" >135.5</text>
<text x="1397.6" y="1108.8" font-size="26.83" font-weight="bold" fill="#161616" >124.1</text>
<text x="1454.5" y="1135.3" font-size="27.63" font-weight="bold" fill="#161616" >117.2</text>
<text x="1222.7" y="1038.0" font-size="30" font-weight="bold" text-anchor="middle" fill="#111">a</text>
<text x="1255.1" y="1102.0" font-size="30" font-weight="bold" text-anchor="middle" fill="#111">b</text>
<text x="1282.2" y="1144.2" font-size="30" font-weight="bold" text-anchor="middle" fill="#111">c</text>
<text x="1349.1" y="1060.6" font-size="30" font-weight="bold" text-anchor="middle" fill="#111">d</text>
<text x="1430.6" y="1137.3" font-size="30" font-weight="bold" text-anchor="middle" fill="#111">e</text>
<text x="1476.8" y="1162.8" font-size="30" font-weight="bold" text-anchor="middle" fill="#111">f</text>
<path d="M1245.4,1162.0 L1249.1,1123.9" stroke="#ff1010" stroke-width="3.2" fill="none"/><path d="M1251.0,1104.0 L1256.5,1124.6 L1241.6,1123.2Z" fill="#ff1010"/>
<g transform="translate(1082.30,867.30) rotate(0.00) scale(0.6800)">
<path d="M-26.9,-26.9 L-23.1,-51.1 M-26.9,-26.9 L-51.1,-23.1 M-23.1,-51.1 L-44.9,-62.2 M-44.9,-62.2 L-62.2,-44.9 M-62.2,-44.9 L-51.1,-23.1 M-23.1,-51.1 L0.0,-60.0 M-51.1,-23.1 L-60.0,0.0 M-26.9,-26.9 L-2.1,-2.1 M26.9,-26.9 L23.1,-51.1 M26.9,-26.9 L51.1,-23.1 M23.1,-51.1 L44.9,-62.2 M44.9,-62.2 L62.2,-44.9 M62.2,-44.9 L51.1,-23.1 M23.1,-51.1 L0.0,-60.0 M51.1,-23.1 L60.0,0.0 M26.9,-26.9 L2.1,-2.1 M-26.9,26.9 L-23.1,51.1 M-26.9,26.9 L-51.1,23.1 M-23.1,51.1 L-44.9,62.2 M-44.9,62.2 L-62.2,44.9 M-62.2,44.9 L-51.1,23.1 M-23.1,51.1 L0.0,60.0 M-51.1,23.1 L-60.0,0.0 M-26.9,26.9 L-2.1,2.1 M26.9,26.9 L23.1,51.1 M26.9,26.9 L51.1,23.1 M23.1,51.1 L44.9,62.2 M44.9,62.2 L62.2,44.9 M62.2,44.9 L51.1,23.1 M23.1,51.1 L0.0,60.0 M51.1,23.1 L60.0,0.0 M26.9,26.9 L2.1,2.1" fill="none" stroke="#ff63a5" stroke-width="3.90" stroke-linecap="round" stroke-linejoin="round"/>
<path d="M0.0,-60.0 L0.0,-86.2 M0.0,-132.7 L20.1,-121.0 L20.1,-97.8 L0.0,-86.2 L-20.1,-97.8 L-20.1,-121.0Z M13.8,-116.4 L13.8,-102.4 M-0.9,-93.9 L-13.0,-100.9 M-13.0,-117.9 L-0.9,-124.9 M0.0,60.0 L0.0,86.2 M0.0,132.7 L-20.1,121.0 L-20.1,97.8 L-0.0,86.2 L20.1,97.8 L20.1,121.0Z M-13.8,116.4 L-13.8,102.4 M0.9,93.9 L13.0,100.9 M13.0,117.9 L0.9,124.9 M-60.0,0.0 L-86.2,0.0 M-132.7,0.0 L-121.0,-20.1 L-97.8,-20.1 L-86.2,-0.0 L-97.8,20.1 L-121.0,20.1Z M-116.4,-13.8 L-102.4,-13.8 M-93.9,0.9 L-100.9,13.0 M-117.9,13.0 L-124.9,0.9 M60.0,0.0 L86.2,0.0 M132.7,0.0 L121.0,20.1 L97.8,20.1 L86.2,0.0 L97.8,-20.1 L121.0,-20.1Z M116.4,13.8 L102.4,13.8 M93.9,-0.9 L100.9,-13.0 M117.9,-13.0 L124.9,-0.9" fill="none" stroke="#6f6fff" stroke-width="3.90" stroke-linecap="round" stroke-linejoin="round"/>
<path d="M0.0,-132.7 L0.0,-156.0" stroke="#999" stroke-width="3.90" stroke-dasharray="5 3" fill="none"/>
<path d="M0.0,132.7 L0.0,156.0" stroke="#999" stroke-width="3.90" stroke-dasharray="5 3" fill="none"/>
<path d="M-132.7,0.0 L-156.0,0.0" stroke="#999" stroke-width="3.90" stroke-dasharray="5 3" fill="none"/>
<path d="M132.7,0.0 L150.5,0.0" fill="none" stroke="#6f6fff" stroke-width="3.90" stroke-linecap="round"/>
</g>
<path d="M1196.9,883.7 L1216.0,883.7 M1216.0,883.7 L1224.4,871.0 M1224.4,871.0 L1240.6,875.3 M1240.6,875.3 L1240.6,891.5 M1216.0,883.7 L1222.9,894.5 M1228.8,896.3 L1240.6,891.5 M1240.6,875.3 L1251.0,871.1 M1256.9,872.9 L1264.5,883.7 M1264.5,883.7 L1254.7,896.4 M1254.7,896.4 L1240.6,891.5 M1220.0,883.1 L1225.4,875.0 M1243.6,878.5 L1243.6,888.3 M1260.4,884.1 L1254.0,892.2" fill="none" stroke="#3f7f4f" stroke-width="3.00" stroke-linecap="round" stroke-linejoin="round"/>
<path d="M1190.9,873.8 L1195.6,884.3 M1193.5,872.6 L1198.2,883.2" fill="none" stroke="#3f7f4f" stroke-opacity="0.7" stroke-width="2.25" stroke-linecap="round"/>
<path d="M1264.5,883.7 L1281.0,883.7" stroke="#999" stroke-width="3.00" stroke-dasharray="5 2" fill="none"/>
<path d="M1173.6,866.4 L1183.0,847.1" stroke="#ff1010" stroke-width="2.6" fill="none"/><path d="M1187.0,839.0 L1186.6,848.8 L1179.5,845.3Z" fill="#ff1010"/>
<text x="1136.3" y="843.0" font-size="20" text-anchor="middle" fill="#2a2a2a">d</text>
<text x="1165.0" y="844.6" font-size="20" text-anchor="middle" fill="#2a2a2a">e</text>
<text x="1193.2" y="837.0" font-size="20" text-anchor="middle" fill="#2a2a2a">a</text>
<text x="1222.5" y="860.6" font-size="20" text-anchor="middle" fill="#2a2a2a">c</text>
<text x="1188.2" y="899.0" font-size="20" text-anchor="middle" fill="#2a2a2a">b</text>
<text x="1140.8" y="904.0" font-size="20" text-anchor="middle" fill="#2a2a2a">f</text>
<text transform="translate(1615.4,58.5) scale(1,1.0)" font-size="52.27" fill="#111">(d)</text>
<path d="M1695.8,351.0 L1697.3,348.3 L1698.7,345.6 L1700.2,352.4 L1701.7,344.1 L1703.1,350.3 L1704.6,349.6 L1705.9,348.1 L1707.2,344.2 L1708.6,350.9 L1709.9,344.7 L1711.2,350.7 L1712.5,346.0 L1713.8,346.7 L1715.1,351.7 L1716.5,357.8 L1717.8,348.3 L1719.1,354.0 L1720.4,349.5 L1721.8,354.5 L1723.1,358.3 L1724.4,352.4 L1725.7,349.2 L1727.1,356.7 L1728.4,343.0 L1729.7,353.7 L1731.0,345.1 L1732.4,342.4 L1733.7,346.7 L1735.0,341.1 L1736.4,343.5 L1737.7,350.4 L1739.0,341.3 L1740.4,346.6 L1741.7,347.2 L1743.0,343.2 L1744.4,345.4 L1745.7,338.4 L1747.0,338.1 L1748.4,339.9 L1749.7,343.8 L1751.0,347.6 L1752.3,345.4 L1753.6,345.1 L1754.9,350.2 L1756.2,349.7 L1757.6,348.9 L1758.9,357.1 L1760.2,357.1 L1761.5,352.0 L1762.8,356.9 L1764.1,357.3 L1765.4,355.9 L1766.7,360.2 L1768.0,357.5 L1769.3,350.7 L1770.6,359.7 L1771.9,347.0 L1773.2,350.5 L1774.5,351.0 L1775.8,354.7 L1777.1,346.4 L1778.4,351.2 L1779.8,345.0 L1781.1,354.0 L1782.4,355.5 L1783.7,352.9 L1785.0,352.0 L1788.5,313.5 L1794.5,371.0 L1799.5,366.0 L1802.2,288.0 L1806.5,374.4 L1808.0,380.2 L1809.4,373.0 L1810.9,378.9 L1812.3,378.0 L1813.8,377.3 L1815.2,377.5 L1816.5,374.9 L1817.9,379.4 L1819.3,380.0 L1820.6,372.5 L1822.0,372.0 L1826.9,358.4 L1828.4,363.9 L1829.8,358.6 L1831.3,370.8 L1832.7,373.3 L1834.2,374.4 L1835.7,382.1 L1837.1,380.6 L1838.6,373.9 L1840.0,376.1 L1841.5,380.9 L1842.9,372.7 L1844.4,380.2 L1845.8,379.5 L1847.1,375.2 L1848.5,374.3 L1849.8,373.3 L1851.2,383.0 L1852.6,373.9 L1853.9,375.3 L1855.3,377.1 L1856.6,383.7 L1858.0,372.4 L1859.4,377.4 L1860.7,378.6 L1862.1,383.1 L1863.4,382.0 L1864.8,377.3 L1866.1,382.0 L1867.5,373.4 L1868.8,374.9 L1870.1,373.7 L1871.4,380.7 L1872.8,381.3 L1874.1,369.6 L1875.4,369.6 L1876.7,370.0 L1878.1,369.6 L1879.4,372.7 L1880.7,373.8 L1882.1,368.8 L1883.4,364.8 L1884.7,370.2 L1886.0,369.1 L1887.4,371.5 L1888.7,376.5 L1890.0,372.5 L1891.3,369.6 L1892.7,370.6 L1894.0,368.6 L1895.3,370.7 L1896.6,361.7 L1898.0,373.2 L1899.3,371.2 L1900.6,372.2 L1901.9,370.8 L1903.2,364.8 L1904.5,364.5 L1905.9,360.1 L1907.2,367.2 L1908.5,358.8 L1909.8,358.6 L1911.1,360.2 L1912.5,359.2 L1913.8,361.4 L1915.1,357.0 L1916.4,356.0 L1917.7,357.7 L1919.0,356.7 L1920.4,360.1 L1921.7,355.0 L1923.0,361.3 L1924.3,366.3 L1925.7,362.4 L1927.0,355.6 L1928.3,356.8 L1929.6,357.8 L1931.0,357.8 L1932.3,354.2 L1933.6,364.1 L1934.9,365.8 L1936.3,358.2 L1937.6,358.2 L1938.9,352.3 L1940.3,352.3 L1941.6,355.4 L1942.9,354.1 L1944.2,361.7 L1945.6,352.1 L1946.9,349.9 L1948.2,362.6 L1949.5,356.4 L1950.9,350.8 L1952.2,355.5 L1953.5,355.5 L1954.8,347.7 L1956.2,354.1 L1957.5,359.8 L1958.8,357.6 L1960.1,354.7 L1961.5,348.0 L1962.8,348.9 L1964.1,345.5 L1965.4,353.4 L1966.8,349.4 L1968.1,352.3 L1969.4,345.4 L1970.7,343.3 L1972.0,350.9 L1973.4,352.8 L1974.7,350.3 L1976.0,349.1 L1977.3,348.6 L1978.7,346.9 L1980.0,339.2 L1981.3,342.4 L1982.6,343.0 L1984.0,341.0 L1985.3,336.7 L1986.6,337.0 L1988.0,340.8 L1989.3,340.9 L1990.7,347.2 L1992.0,351.2 L1993.3,344.4 L1994.7,351.6 L1996.0,352.6 L1997.3,352.5 L1998.7,344.5 L2000.0,346.7 L2001.3,342.4 L2002.6,342.1 L2003.9,341.3 L2005.2,341.0 L2006.6,346.5 L2007.9,350.0 L2009.2,348.7 L2010.5,343.3 L2011.8,343.2 L2013.1,346.1 L2014.5,349.0 L2015.8,339.8 L2017.1,348.6 L2018.4,352.9 L2019.8,352.0 L2021.1,352.3 L2022.4,349.3 L2023.7,345.9 L2025.1,355.2 L2026.4,352.0 L2027.7,349.9 L2029.0,356.8 L2030.3,359.5 L2031.6,351.7 L2033.0,352.1 L2034.3,360.0 L2035.6,357.2 L2036.9,349.7 L2038.2,349.4 L2039.5,354.9 L2040.9,349.0 L2042.2,358.5 L2043.6,356.1 L2045.0,345.8 L2046.4,354.3 L2047.7,355.4 L2049.1,349.9 L2050.5,344.6 L2051.8,346.3 L2053.2,339.4 L2054.6,336.8 L2055.9,349.1 L2057.3,343.6 L2058.7,340.9 L2060.1,345.5 L2061.4,337.5 L2062.8,337.4 L2064.3,344.1 L2065.7,344.9 L2067.2,337.7 L2068.7,339.7 L2070.1,341.8 L2071.6,346.1 L2072.9,343.3 L2074.2,349.1 L2075.5,345.4 L2076.8,348.5 L2078.1,345.3 L2079.5,357.1 L2080.8,350.2 L2082.1,352.6 L2083.4,355.2 L2084.7,354.9 L2086.1,361.4 L2087.4,355.4 L2088.8,363.2 L2090.1,358.2 L2091.5,359.5 L2092.8,360.2 L2094.2,360.7 L2097.1,314.1 L2100.2,362.2 L2101.5,355.6 L2102.9,361.7 L2104.2,358.3 L2105.6,356.0 L2106.9,367.3 L2108.2,358.7 L2109.6,363.1 L2110.9,363.6 L2114.5,350.0 L2116.7,341.8 L2119.5,360.0 L2121.0,367.3 L2122.5,369.1 L2124.0,370.1 L2125.5,376.7 L2126.8,377.9 L2128.1,379.3 L2129.5,383.5 L2130.8,374.9 L2132.1,382.2 L2133.4,378.7 L2134.7,380.1 L2136.0,387.9 L2137.4,385.2 L2138.7,386.8 L2140.0,386.9 L2141.5,389.3 L2142.9,390.2 L2144.4,382.4 L2145.8,383.5 L2147.3,380.8 L2148.7,379.6 L2150.2,378.2 L2151.5,380.8 L2152.9,377.3 L2154.2,378.3 L2155.5,377.3 L2156.8,383.7 L2158.2,380.2 L2159.5,382.5 L2160.8,383.3 L2162.1,373.6 L2163.5,377.7 L2164.8,376.7 L2166.2,383.1 L2167.6,381.9 L2169.0,372.3 L2170.3,372.3 L2171.7,377.0 L2173.1,372.0 L2174.5,378.2 L2177.2,321.4 L2180.3,391.3 L2181.7,387.5 L2183.0,385.0 L2184.4,393.2 L2185.7,394.7 L2187.1,396.1 L2188.5,385.6 L2189.8,393.3 L2191.2,392.3 L2192.5,385.0 L2193.9,389.8 L2195.2,394.8 L2196.6,395.6 L2197.9,384.7 L2199.2,394.6 L2200.5,386.4 L2201.9,387.3 L2203.2,393.9 L2204.5,391.3 L2205.8,381.5 L2207.2,384.9 L2208.5,385.5 L2209.8,384.9 L2211.1,381.6 L2212.5,378.8 L2213.8,379.8 L2215.1,384.6 L2216.4,374.0 L2217.7,380.7 L2219.0,378.3 L2220.4,371.6 L2221.7,375.1 L2223.0,376.7 L2224.5,375.9 L2225.9,371.7 L2227.4,369.0 L2232.8,376.0 L2236.5,400.0 L2239.1,417.5 L2242.3,400.0 L2244.8,71.0 L2246.5,71.0 L2248.0,476.2 L2249.6,487.4 L2251.0,484.8 L2252.4,489.3 L2253.8,488.0 L2255.2,488.7 L2256.6,483.9 L2257.9,484.4 L2259.3,483.0 L2260.7,486.5 L2262.1,483.6 L2263.5,482.6 L2264.9,484.2 L2266.3,483.8 L2267.6,486.3 L2269.0,485.9 L2270.4,482.9 L2271.8,482.4 L2273.1,486.4 L2274.5,484.2 L2277.0,480.0 L2279.3,458.5 L2281.5,492.2 L2282.8,492.3 L2284.1,492.8 L2285.5,489.4 L2286.8,489.0 L2288.1,492.0 L2289.4,490.4 L2290.8,488.4 L2292.1,492.7 L2293.4,490.8 L2294.7,491.5 L2296.0,487.5 L2297.4,491.3 L2298.7,487.0 L2300.0,489.0 L2301.4,491.9 L2302.8,490.8 L2304.2,491.2 L2305.7,493.3 L2307.1,496.2 L2308.5,493.8 L2309.9,494.1 L2311.3,497.0 L2316.0,490.0 L2317.7,447.3 L2320.0,503.4 L2321.3,503.5 L2322.7,502.0 L2324.0,501.4 L2325.4,501.6 L2326.7,501.1 L2328.1,501.8 L2329.4,502.4 L2330.8,502.4 L2332.1,503.4 L2333.4,504.9 L2334.8,502.6 L2336.1,503.8 L2337.4,502.3 L2338.8,503.3 L2340.1,501.7 L2341.4,503.0 L2342.8,501.9 L2344.1,505.8 L2345.4,505.0 L2346.8,503.3 L2348.1,505.0 L2349.5,504.7 L2351.0,506.9 L2352.4,502.4 L2353.8,505.9 L2355.3,503.8 L2356.7,503.9 L2358.1,505.5 L2359.6,503.0 L2361.0,503.4 L2363.4,493.8 L2366.4,510.4 L2367.8,510.5 L2369.1,511.5 L2370.5,513.1 L2371.8,509.8 L2373.2,512.4 L2374.6,511.8 L2375.9,511.5 L2377.3,510.4 L2378.7,510.2 L2380.0,508.7 L2381.4,509.2 L2382.8,508.9 L2384.1,512.5 L2385.5,510.0 L2386.8,509.6 L2388.2,511.4 L2389.5,509.1 L2390.9,512.8 L2392.2,512.8 L2393.5,511.6 L2394.9,509.4 L2396.2,509.0 L2397.5,509.1 L2398.9,509.8 L2400.2,508.0 L2401.5,509.3 L2402.9,508.2 L2404.2,511.7 L2405.5,511.5 L2406.9,509.2 L2408.2,507.4 L2409.5,511.0 L2410.9,507.4 L2412.2,508.2 L2415.4,521.0" fill="none" stroke="#109494" stroke-width="4.6" stroke-linejoin="round"/>
<rect x="1695.4" y="26.8" width="721.0" height="537.7" fill="none" stroke="#646464" stroke-width="4.0"/>
<path d="M1695.4,564.5 L1695.4,574.5 M1815.6,564.5 L1815.6,574.5 M1935.7,564.5 L1935.7,574.5 M2055.9,564.5 L2055.9,574.5 M2176.1,564.5 L2176.1,574.5 M2296.2,564.5 L2296.2,574.5 M2416.4,564.5 L2416.4,574.5 M1755.5,564.5 L1755.5,570.0 M1875.7,564.5 L1875.7,570.0 M1995.8,564.5 L1995.8,570.0 M2116.0,564.5 L2116.0,570.0 M2236.2,564.5 L2236.2,570.0 M2356.3,564.5 L2356.3,570.0" stroke="#646464" stroke-width="3.2" fill="none"/>
<text x="1695.4" y="601.8" font-size="25.5" font-weight="bold" text-anchor="middle" fill="#161616">1200</text>
<text x="1815.6" y="601.8" font-size="25.5" font-weight="bold" text-anchor="middle" fill="#161616">1000</text>
<text x="1935.7" y="601.8" font-size="25.5" font-weight="bold" text-anchor="middle" fill="#161616">800</text>
<text x="2055.9" y="601.8" font-size="25.5" font-weight="bold" text-anchor="middle" fill="#161616">600</text>
<text x="2176.1" y="601.8" font-size="25.5" font-weight="bold" text-anchor="middle" fill="#161616">400</text>
<text x="2296.2" y="601.8" font-size="25.5" font-weight="bold" text-anchor="middle" fill="#161616">200</text>
<text x="2416.4" y="601.8" font-size="25.5" font-weight="bold" text-anchor="middle" fill="#161616">0</text>
<text x="1923.7" y="653.8" font-size="27.74" font-weight="bold" fill="#161616" >Binding Energy (eV)</text>
<path d="M1723.6,71.3 L1805.6,71.3" stroke="#129a9a" stroke-width="5" stroke-linecap="round"/>
<text x="1812.1" y="83.9" font-size="29.93" font-weight="bold" fill="#111" >Zn-Por-TT COF</text>
<text x="1756.1" y="269.5" font-size="30.50" font-weight="normal" fill="#222" >Zn 2p</text>
<text x="2047.6" y="293.7" font-size="30.15" font-weight="normal" fill="#222" >O 1s</text>
<text x="2129.5" y="301.0" font-size="31.60" font-weight="normal" fill="#222" >N 1s</text>
<text x="2193.5" y="59.0" font-size="30.96" font-weight="normal" fill="#222" >C 1s</text>
<text x="2282.6" y="387.3" font-size="30.61" font-weight="normal" fill="#222" >S 2p</text>
<text transform="translate(1609.6,747.5) scale(1,1.0)" font-size="52.45" fill="#111">(e)</text>
<defs><linearGradient id="pk1" x1="0" y1="0" x2="0" y2="1"><stop offset="0" stop-color="#ff0f70"/><stop offset="0.2" stop-color="#ff2a8c"/><stop offset="0.44" stop-color="#ff50bc"/><stop offset="0.6" stop-color="#ff6ade"/><stop offset="0.75" stop-color="#ff7af4"/><stop offset="1" stop-color="#ff80fc"/></linearGradient><linearGradient id="pk2" x1="0" y1="0" x2="0" y2="1"><stop offset="0" stop-color="#c9a2ea"/><stop offset="0.6" stop-color="#b6aee0"/><stop offset="1" stop-color="#86bcb0"/></linearGradient></defs>
<path d="M1736.0,1235.7 L1736.5,1235.5 L1737.0,1235.4 L1737.5,1235.2 L1738.0,1235.1 L1738.5,1234.9 L1739.0,1234.7 L1739.5,1234.4 L1740.0,1234.2 L1740.5,1233.9 L1741.0,1233.5 L1741.5,1233.1 L1742.0,1232.7 L1742.5,1232.3 L1743.0,1231.8 L1743.5,1231.2 L1744.0,1230.6 L1744.5,1229.9 L1745.0,1229.1 L1745.5,1228.3 L1746.0,1227.4 L1746.5,1226.4 L1747.0,1225.3 L1747.5,1224.1 L1748.0,1222.8 L1748.5,1221.4 L1749.0,1219.9 L1749.5,1218.2 L1750.0,1216.4 L1750.5,1214.5 L1751.0,1212.4 L1751.5,1210.1 L1752.0,1207.7 L1752.5,1205.1 L1753.0,1202.3 L1753.5,1199.3 L1754.0,1196.1 L1754.5,1192.7 L1755.0,1189.0 L1755.5,1185.2 L1756.0,1181.1 L1756.5,1176.8 L1757.0,1172.2 L1757.5,1167.4 L1758.0,1162.3 L1758.5,1156.9 L1759.0,1151.3 L1759.5,1145.4 L1760.0,1139.3 L1760.5,1132.9 L1761.0,1126.2 L1761.5,1119.2 L1762.0,1112.0 L1762.5,1104.6 L1763.0,1096.9 L1763.5,1089.0 L1764.0,1080.8 L1764.5,1072.4 L1765.0,1063.8 L1765.5,1055.1 L1766.0,1046.1 L1766.5,1037.0 L1767.0,1027.8 L1767.5,1018.4 L1768.0,1009.0 L1768.5,999.5 L1769.0,989.9 L1769.5,980.3 L1770.0,970.7 L1770.5,961.2 L1771.0,951.7 L1771.5,942.3 L1772.0,933.1 L1772.5,924.0 L1773.0,915.1 L1773.5,906.3 L1774.0,897.9 L1774.5,889.7 L1775.0,881.8 L1775.5,874.3 L1776.0,867.1 L1776.5,860.4 L1777.0,854.0 L1777.5,848.1 L1778.0,842.7 L1778.5,837.7 L1779.0,833.3 L1779.5,829.4 L1780.0,826.0 L1780.5,823.2 L1781.0,820.9 L1781.5,819.3 L1782.0,818.2 L1782.5,817.7 L1783.0,817.7 L1783.5,818.3 L1784.0,819.3 L1784.5,820.8 L1785.0,822.7 L1785.5,825.2 L1786.0,828.0 L1786.5,831.4 L1787.0,835.1 L1787.5,839.3 L1788.0,843.9 L1788.5,848.8 L1789.0,854.2 L1789.5,859.9 L1790.0,865.9 L1790.5,872.3 L1791.0,878.9 L1791.5,885.9 L1792.0,893.0 L1792.5,900.5 L1793.0,908.1 L1793.5,915.9 L1794.0,923.9 L1794.5,932.0 L1795.0,940.2 L1795.5,948.5 L1796.0,956.9 L1796.5,965.4 L1797.0,973.9 L1797.5,982.4 L1798.0,990.9 L1798.5,999.3 L1799.0,1007.7 L1799.5,1016.0 L1800.0,1024.3 L1800.5,1032.5 L1801.0,1040.5 L1801.5,1048.4 L1802.0,1056.2 L1802.5,1063.8 L1803.0,1071.3 L1803.5,1078.6 L1804.0,1085.7 L1804.5,1092.6 L1805.0,1099.3 L1805.5,1105.8 L1806.0,1112.1 L1806.5,1118.3 L1807.0,1124.2 L1807.5,1129.8 L1808.0,1135.3 L1808.5,1140.6 L1809.0,1145.6 L1809.5,1150.4 L1810.0,1154.7 L1810.5,1159.1 L1811.0,1163.3 L1811.5,1167.3 L1812.0,1171.2 L1812.5,1174.8 L1813.0,1178.2 L1813.5,1181.5 L1814.0,1184.5 L1814.5,1187.4 L1815.0,1190.2 L1815.5,1192.7 L1816.0,1195.1 L1816.5,1197.4 L1817.0,1199.5 L1817.5,1201.5 L1818.0,1203.4 L1818.5,1205.1 L1819.0,1206.7 L1819.5,1208.2 L1820.0,1209.6 L1820.5,1210.9 L1821.0,1212.1 L1821.5,1213.2 L1822.0,1214.2 L1822.5,1215.1 L1823.0,1216.0 L1823.5,1216.8 L1824.0,1217.6 L1824.5,1218.2 L1825.0,1218.8 L1825.5,1219.4 L1826.0,1219.9 L1826.5,1220.4 L1827.0,1220.8 L1827.5,1221.2 L1828.0,1221.6 L1828.5,1221.9 L1829.0,1222.2 L1829.5,1222.5 L1830.0,1222.7 L1830.0,1224.8 L1829.5,1224.8 L1829.0,1224.8 L1828.5,1224.8 L1828.0,1224.8 L1827.5,1224.8 L1827.0,1224.8 L1826.5,1224.8 L1826.0,1224.8 L1825.5,1224.8 L1825.0,1224.8 L1824.5,1224.8 L1824.0,1224.8 L1823.5,1224.9 L1823.0,1224.9 L1822.5,1224.9 L1822.0,1224.9 L1821.5,1224.9 L1821.0,1224.9 L1820.5,1224.9 L1820.0,1224.9 L1819.5,1224.9 L1819.0,1224.9 L1818.5,1224.9 L1818.0,1224.9 L1817.5,1224.9 L1817.0,1224.9 L1816.5,1224.9 L1816.0,1224.9 L1815.5,1224.9 L1815.0,1224.9 L1814.5,1225.0 L1814.0,1225.0 L1813.5,1225.0 L1813.0,1225.0 L1812.5,1225.0 L1812.0,1225.0 L1811.5,1225.0 L1811.0,1225.0 L1810.5,1225.0 L1810.0,1225.0 L1809.5,1225.4 L1809.0,1225.4 L1808.5,1225.4 L1808.0,1225.5 L1807.5,1225.5 L1807.0,1225.5 L1806.5,1225.6 L1806.0,1225.6 L1805.5,1225.7 L1805.0,1225.7 L1804.5,1225.8 L1804.0,1225.8 L1803.5,1225.9 L1803.0,1225.9 L1802.5,1226.0 L1802.0,1226.1 L1801.5,1226.1 L1801.0,1226.2 L1800.5,1226.3 L1800.0,1226.4 L1799.5,1226.5 L1799.0,1226.6 L1798.5,1226.7 L1798.0,1226.8 L1797.5,1226.9 L1797.0,1227.0 L1796.5,1227.1 L1796.0,1227.2 L1795.5,1227.4 L1795.0,1227.5 L1794.5,1227.6 L1794.0,1227.8 L1793.5,1227.9 L1793.0,1228.1 L1792.5,1228.3 L1792.0,1228.4 L1791.5,1228.6 L1791.0,1228.8 L1790.5,1229.0 L1790.0,1229.2 L1789.5,1229.3 L1789.0,1229.5 L1788.5,1229.7 L1788.0,1229.9 L1787.5,1230.1 L1787.0,1230.3 L1786.5,1230.5 L1786.0,1230.8 L1785.5,1231.0 L1785.0,1231.2 L1784.5,1231.4 L1784.0,1231.6 L1783.5,1231.8 L1783.0,1232.0 L1782.5,1232.2 L1782.0,1232.3 L1781.5,1232.5 L1781.0,1232.7 L1780.5,1232.9 L1780.0,1233.1 L1779.5,1233.2 L1779.0,1233.4 L1778.5,1233.6 L1778.0,1233.7 L1777.5,1233.9 L1777.0,1234.0 L1776.5,1234.1 L1776.0,1234.3 L1775.5,1234.4 L1775.0,1234.5 L1774.5,1234.6 L1774.0,1234.7 L1773.5,1234.8 L1773.0,1234.9 L1772.5,1235.0 L1772.0,1235.1 L1771.5,1235.2 L1771.0,1235.3 L1770.5,1235.4 L1770.0,1235.4 L1769.5,1235.5 L1769.0,1235.6 L1768.5,1235.6 L1768.0,1235.7 L1767.5,1235.7 L1767.0,1235.8 L1766.5,1235.8 L1766.0,1235.9 L1765.5,1235.9 L1765.0,1236.0 L1764.5,1236.0 L1764.0,1236.0 L1763.5,1236.1 L1763.0,1236.1 L1762.5,1236.1 L1762.0,1236.1 L1761.5,1236.2 L1761.0,1236.2 L1760.5,1236.2 L1760.0,1236.2 L1759.5,1236.2 L1759.0,1236.3 L1758.5,1236.3 L1758.0,1236.3 L1757.5,1236.3 L1757.0,1236.3 L1756.5,1236.3 L1756.0,1236.3 L1755.5,1236.4 L1755.0,1236.4 L1754.5,1236.4 L1754.0,1236.4 L1753.5,1236.4 L1753.0,1236.4 L1752.5,1236.4 L1752.0,1236.4 L1751.5,1236.4 L1751.0,1236.4 L1750.5,1236.4 L1750.0,1236.4 L1749.5,1236.4 L1749.0,1236.4 L1748.5,1236.4 L1748.0,1236.4 L1747.5,1236.5 L1747.0,1236.5 L1746.5,1236.5 L1746.0,1236.5 L1745.5,1236.5 L1745.0,1236.5 L1744.5,1236.5 L1744.0,1236.5 L1743.5,1236.5 L1743.0,1236.5 L1742.5,1236.5 L1742.0,1236.5 L1741.5,1236.5 L1741.0,1236.5 L1740.5,1236.5 L1740.0,1236.5 L1739.5,1236.5 L1739.0,1236.5 L1738.5,1236.5 L1738.0,1236.5 L1737.5,1236.5 L1737.0,1236.5 L1736.5,1236.5 L1736.0,1236.5Z" fill="url(#pk1)" stroke="none"/>
<path d="M1736.0,1235.7 L1736.5,1235.5 L1737.0,1235.4 L1737.5,1235.2 L1738.0,1235.1 L1738.5,1234.9 L1739.0,1234.7 L1739.5,1234.4 L1740.0,1234.2 L1740.5,1233.9 L1741.0,1233.5 L1741.5,1233.1 L1742.0,1232.7 L1742.5,1232.3 L1743.0,1231.8 L1743.5,1231.2 L1744.0,1230.6 L1744.5,1229.9 L1745.0,1229.1 L1745.5,1228.3 L1746.0,1227.4 L1746.5,1226.4 L1747.0,1225.3 L1747.5,1224.1 L1748.0,1222.8 L1748.5,1221.4 L1749.0,1219.9 L1749.5,1218.2 L1750.0,1216.4 L1750.5,1214.5 L1751.0,1212.4 L1751.5,1210.1 L1752.0,1207.7 L1752.5,1205.1 L1753.0,1202.3 L1753.5,1199.3 L1754.0,1196.1 L1754.5,1192.7 L1755.0,1189.0 L1755.5,1185.2 L1756.0,1181.1 L1756.5,1176.8 L1757.0,1172.2 L1757.5,1167.4 L1758.0,1162.3 L1758.5,1156.9 L1759.0,1151.3 L1759.5,1145.4 L1760.0,1139.3 L1760.5,1132.9 L1761.0,1126.2 L1761.5,1119.2 L1762.0,1112.0 L1762.5,1104.6 L1763.0,1096.9 L1763.5,1089.0 L1764.0,1080.8 L1764.5,1072.4 L1765.0,1063.8 L1765.5,1055.1 L1766.0,1046.1 L1766.5,1037.0 L1767.0,1027.8 L1767.5,1018.4 L1768.0,1009.0 L1768.5,999.5 L1769.0,989.9 L1769.5,980.3 L1770.0,970.7 L1770.5,961.2 L1771.0,951.7 L1771.5,942.3 L1772.0,933.1 L1772.5,924.0 L1773.0,915.1 L1773.5,906.3 L1774.0,897.9 L1774.5,889.7 L1775.0,881.8 L1775.5,874.3 L1776.0,867.1 L1776.5,860.4 L1777.0,854.0 L1777.5,848.1 L1778.0,842.7 L1778.5,837.7 L1779.0,833.3 L1779.5,829.4 L1780.0,826.0 L1780.5,823.2 L1781.0,820.9 L1781.5,819.3 L1782.0,818.2 L1782.5,817.7 L1783.0,817.7 L1783.5,818.3 L1784.0,819.3 L1784.5,820.8 L1785.0,822.7 L1785.5,825.2 L1786.0,828.0 L1786.5,831.4 L1787.0,835.1 L1787.5,839.3 L1788.0,843.9 L1788.5,848.8 L1789.0,854.2 L1789.5,859.9 L1790.0,865.9 L1790.5,872.3 L1791.0,878.9 L1791.5,885.9 L1792.0,893.0 L1792.5,900.5 L1793.0,908.1 L1793.5,915.9 L1794.0,923.9 L1794.5,932.0 L1795.0,940.2 L1795.5,948.5 L1796.0,956.9 L1796.5,965.4 L1797.0,973.9 L1797.5,982.4 L1798.0,990.9 L1798.5,999.3 L1799.0,1007.7 L1799.5,1016.0 L1800.0,1024.3 L1800.5,1032.5 L1801.0,1040.5 L1801.5,1048.4 L1802.0,1056.2 L1802.5,1063.8 L1803.0,1071.3 L1803.5,1078.6 L1804.0,1085.7 L1804.5,1092.6 L1805.0,1099.3 L1805.5,1105.8 L1806.0,1112.1 L1806.5,1118.3 L1807.0,1124.2 L1807.5,1129.8 L1808.0,1135.3 L1808.5,1140.6 L1809.0,1145.6 L1809.5,1150.4 L1810.0,1154.7 L1810.5,1159.1 L1811.0,1163.3 L1811.5,1167.3 L1812.0,1171.2 L1812.5,1174.8 L1813.0,1178.2 L1813.5,1181.5 L1814.0,1184.5 L1814.5,1187.4 L1815.0,1190.2 L1815.5,1192.7 L1816.0,1195.1 L1816.5,1197.4 L1817.0,1199.5 L1817.5,1201.5 L1818.0,1203.4 L1818.5,1205.1 L1819.0,1206.7 L1819.5,1208.2 L1820.0,1209.6 L1820.5,1210.9 L1821.0,1212.1 L1821.5,1213.2 L1822.0,1214.2 L1822.5,1215.1 L1823.0,1216.0 L1823.5,1216.8 L1824.0,1217.6 L1824.5,1218.2 L1825.0,1218.8 L1825.5,1219.4 L1826.0,1219.9 L1826.5,1220.4 L1827.0,1220.8 L1827.5,1221.2 L1828.0,1221.6 L1828.5,1221.9 L1829.0,1222.2 L1829.5,1222.5 L1830.0,1222.7" fill="none" stroke="#6aa58e" stroke-width="1.2"/>
<path d="M2212.0,1220.4 L2212.5,1220.4 L2213.0,1220.3 L2213.5,1220.3 L2214.0,1220.3 L2214.5,1220.2 L2215.0,1220.1 L2215.5,1220.1 L2216.0,1220.0 L2216.5,1219.9 L2217.0,1219.8 L2217.5,1219.7 L2218.0,1219.6 L2218.5,1219.5 L2219.0,1219.3 L2219.5,1219.2 L2220.0,1219.0 L2220.5,1218.8 L2221.0,1218.6 L2221.5,1218.4 L2222.0,1218.1 L2222.5,1217.9 L2223.0,1217.6 L2223.5,1217.2 L2224.0,1216.9 L2224.5,1216.5 L2225.0,1215.9 L2225.5,1215.5 L2226.0,1214.9 L2226.5,1214.4 L2227.0,1213.8 L2227.5,1213.1 L2228.0,1212.4 L2228.5,1211.6 L2229.0,1210.8 L2229.5,1209.9 L2230.0,1209.0 L2230.5,1207.9 L2231.0,1206.8 L2231.5,1205.7 L2232.0,1204.4 L2232.5,1203.1 L2233.0,1201.6 L2233.5,1200.1 L2234.0,1198.5 L2234.5,1196.7 L2235.0,1194.9 L2235.5,1193.0 L2236.0,1191.0 L2236.5,1188.8 L2237.0,1186.5 L2237.5,1184.1 L2238.0,1181.6 L2238.5,1179.0 L2239.0,1176.3 L2239.5,1173.4 L2240.0,1170.4 L2240.5,1167.3 L2241.0,1164.1 L2241.5,1160.7 L2242.0,1157.3 L2242.5,1153.7 L2243.0,1150.0 L2243.5,1146.1 L2244.0,1142.2 L2244.5,1138.2 L2245.0,1134.1 L2245.5,1129.8 L2246.0,1125.5 L2246.5,1121.1 L2247.0,1116.7 L2247.5,1112.1 L2248.0,1107.6 L2248.5,1102.9 L2249.0,1098.3 L2249.5,1093.6 L2250.0,1088.9 L2250.5,1084.1 L2251.0,1079.4 L2251.5,1074.8 L2252.0,1070.1 L2252.5,1065.5 L2253.0,1060.9 L2253.5,1056.5 L2254.0,1052.1 L2254.5,1047.8 L2255.0,1043.6 L2255.5,1039.5 L2256.0,1035.6 L2256.5,1031.8 L2257.0,1028.2 L2257.5,1024.8 L2258.0,1021.5 L2258.5,1018.4 L2259.0,1015.6 L2259.5,1012.9 L2260.0,1010.5 L2260.5,1008.3 L2261.0,1006.4 L2261.5,1004.7 L2262.0,1003.2 L2262.5,1002.0 L2263.0,1001.1 L2263.5,1000.4 L2264.0,1000.0 L2264.5,999.9 L2265.0,999.9 L2265.5,1000.2 L2266.0,1000.7 L2266.5,1001.3 L2267.0,1002.2 L2267.5,1003.3 L2268.0,1004.6 L2268.5,1006.1 L2269.0,1007.8 L2269.5,1009.7 L2270.0,1011.7 L2270.5,1014.0 L2271.0,1016.4 L2271.5,1018.9 L2272.0,1021.7 L2272.5,1024.5 L2273.0,1027.5 L2273.5,1030.6 L2274.0,1033.9 L2274.5,1037.2 L2275.0,1040.7 L2275.5,1044.2 L2276.0,1047.8 L2276.5,1051.5 L2277.0,1055.3 L2277.5,1059.1 L2278.0,1063.0 L2278.5,1066.8 L2279.0,1070.8 L2279.5,1074.7 L2280.0,1078.6 L2280.5,1082.5 L2281.0,1086.5 L2281.5,1090.4 L2282.0,1094.3 L2282.5,1098.1 L2283.0,1101.9 L2283.5,1105.7 L2284.0,1109.4 L2284.5,1113.1 L2285.0,1116.7 L2285.5,1120.2 L2286.0,1123.6 L2286.5,1127.0 L2287.0,1130.3 L2287.5,1133.6 L2288.0,1136.7 L2288.5,1139.7 L2289.0,1142.7 L2289.5,1145.6 L2290.0,1148.4 L2290.5,1151.0 L2291.0,1153.6 L2291.5,1156.1 L2292.0,1158.5 L2292.5,1160.8 L2293.0,1163.1 L2293.5,1165.2 L2294.0,1167.2 L2294.5,1169.2 L2295.0,1171.0 L2295.5,1172.8 L2296.0,1174.5 L2296.5,1176.1 L2297.0,1177.6 L2297.5,1179.0 L2298.0,1180.4 L2298.5,1181.7 L2299.0,1182.9 L2299.5,1184.1 L2300.0,1185.2 L2300.5,1186.2 L2301.0,1187.2 L2301.5,1188.1 L2302.0,1188.9 L2302.5,1189.7 L2303.0,1190.4 L2303.5,1191.1 L2304.0,1191.8 L2304.5,1192.4 L2305.0,1192.9 L2305.5,1193.5 L2306.0,1194.0 L2306.5,1194.4 L2307.0,1194.8 L2307.5,1195.2 L2308.0,1195.6 L2308.5,1195.9 L2309.0,1196.2 L2309.5,1196.5 L2310.0,1196.7 L2310.5,1197.0 L2311.0,1197.2 L2311.5,1197.4 L2312.0,1197.5 L2312.5,1197.7 L2313.0,1197.9 L2313.5,1198.0 L2314.0,1198.1 L2314.5,1198.2 L2315.0,1198.3 L2315.5,1198.4 L2316.0,1198.5 L2316.5,1198.6 L2317.0,1198.7 L2317.5,1198.7 L2318.0,1198.8 L2318.5,1198.8 L2319.0,1198.9 L2319.5,1198.9 L2320.0,1198.9 L2320.0,1199.3 L2319.5,1199.3 L2319.0,1199.3 L2318.5,1199.3 L2318.0,1199.3 L2317.5,1199.3 L2317.0,1199.3 L2316.5,1199.3 L2316.0,1199.3 L2315.5,1199.3 L2315.0,1199.3 L2314.5,1199.3 L2314.0,1199.3 L2313.5,1199.3 L2313.0,1199.4 L2312.5,1199.4 L2312.0,1199.4 L2311.5,1199.4 L2311.0,1199.4 L2310.5,1199.4 L2310.0,1199.4 L2309.5,1199.4 L2309.0,1199.4 L2308.5,1199.4 L2308.0,1199.4 L2307.5,1199.5 L2307.0,1199.5 L2306.5,1199.5 L2306.0,1199.5 L2305.5,1199.5 L2305.0,1199.5 L2304.5,1199.5 L2304.0,1199.5 L2303.5,1199.6 L2303.0,1199.6 L2302.5,1199.6 L2302.0,1199.6 L2301.5,1199.6 L2301.0,1199.6 L2300.5,1199.7 L2300.0,1199.7 L2299.5,1199.7 L2299.0,1199.7 L2298.5,1199.8 L2298.0,1199.8 L2297.5,1199.8 L2297.0,1199.8 L2296.5,1199.9 L2296.0,1199.9 L2295.5,1199.9 L2295.0,1200.0 L2294.5,1200.0 L2294.0,1200.0 L2293.5,1200.1 L2293.0,1200.1 L2292.5,1200.2 L2292.0,1200.2 L2291.5,1200.3 L2291.0,1200.3 L2290.5,1200.4 L2290.0,1200.5 L2289.5,1200.5 L2289.0,1200.6 L2288.5,1200.7 L2288.0,1200.7 L2287.5,1200.8 L2287.0,1200.9 L2286.5,1201.0 L2286.0,1201.1 L2285.5,1201.2 L2285.0,1201.3 L2284.5,1201.4 L2284.0,1201.5 L2283.5,1201.6 L2283.0,1201.7 L2282.5,1201.9 L2282.0,1202.0 L2281.5,1202.1 L2281.0,1202.3 L2280.5,1202.4 L2280.0,1202.6 L2279.5,1202.8 L2279.0,1202.9 L2278.5,1203.1 L2278.0,1203.3 L2277.5,1203.5 L2277.0,1203.7 L2276.5,1203.9 L2276.0,1204.2 L2275.5,1204.4 L2275.0,1204.6 L2274.5,1204.9 L2274.0,1205.1 L2273.5,1205.4 L2273.0,1205.6 L2272.5,1205.9 L2272.0,1206.2 L2271.5,1206.5 L2271.0,1206.8 L2270.5,1207.1 L2270.0,1207.4 L2269.5,1207.7 L2269.0,1208.0 L2268.5,1208.3 L2268.0,1208.6 L2267.5,1209.0 L2267.0,1209.3 L2266.5,1209.6 L2266.0,1209.9 L2265.5,1210.2 L2265.0,1210.6 L2264.5,1210.9 L2264.0,1211.2 L2263.5,1211.5 L2263.0,1211.8 L2262.5,1212.2 L2262.0,1212.5 L2261.5,1212.8 L2261.0,1213.1 L2260.5,1213.4 L2260.0,1213.6 L2259.5,1213.9 L2259.0,1214.2 L2258.5,1214.5 L2258.0,1214.7 L2257.5,1215.0 L2257.0,1215.2 L2256.5,1215.5 L2256.0,1215.7 L2255.5,1215.9 L2255.0,1216.1 L2254.5,1216.3 L2254.0,1216.5 L2253.5,1216.7 L2253.0,1216.9 L2252.5,1217.1 L2252.0,1217.2 L2251.5,1217.4 L2251.0,1217.6 L2250.5,1217.7 L2250.0,1217.9 L2249.5,1218.0 L2249.0,1218.1 L2248.5,1218.2 L2248.0,1218.4 L2247.5,1218.5 L2247.0,1218.6 L2246.5,1218.7 L2246.0,1218.8 L2245.5,1218.9 L2245.0,1219.0 L2244.5,1219.0 L2244.0,1219.1 L2243.5,1219.2 L2243.0,1219.3 L2242.5,1219.3 L2242.0,1219.4 L2241.5,1219.5 L2241.0,1219.5 L2240.5,1219.6 L2240.0,1219.6 L2239.5,1219.7 L2239.0,1219.7 L2238.5,1219.8 L2238.0,1219.8 L2237.5,1219.8 L2237.0,1219.9 L2236.5,1219.9 L2236.0,1219.9 L2235.5,1220.0 L2235.0,1220.0 L2234.5,1220.0 L2234.0,1220.1 L2233.5,1220.1 L2233.0,1220.1 L2232.5,1220.1 L2232.0,1220.2 L2231.5,1220.2 L2231.0,1220.2 L2230.5,1220.2 L2230.0,1220.2 L2229.5,1220.3 L2229.0,1220.3 L2228.5,1220.3 L2228.0,1220.3 L2227.5,1220.3 L2227.0,1220.3 L2226.5,1220.3 L2226.0,1220.4 L2225.5,1220.4 L2225.0,1220.4 L2224.5,1220.5 L2224.0,1220.5 L2223.5,1220.5 L2223.0,1220.5 L2222.5,1220.5 L2222.0,1220.5 L2221.5,1220.5 L2221.0,1220.5 L2220.5,1220.5 L2220.0,1220.6 L2219.5,1220.6 L2219.0,1220.6 L2218.5,1220.6 L2218.0,1220.6 L2217.5,1220.6 L2217.0,1220.6 L2216.5,1220.6 L2216.0,1220.6 L2215.5,1220.6 L2215.0,1220.6 L2214.5,1220.6 L2214.0,1220.6 L2213.5,1220.6 L2213.0,1220.6 L2212.5,1220.6 L2212.0,1220.6Z" fill="url(#pk2)" stroke="none"/>
<path d="M2263.9,1003.1 L2263.9,1211.3" stroke="#5fb8a0" stroke-width="1.5"/>
<path d="M1708.0,1236.5 L1710.0,1236.5 L1712.0,1236.5 L1714.0,1236.5 L1716.0,1236.5 L1718.0,1236.5 L1720.0,1236.5 L1722.0,1236.5 L1724.0,1236.5 L1726.0,1236.5 L1728.0,1236.5 L1730.0,1236.5 L1732.0,1236.5 L1734.0,1236.5 L1736.0,1236.5 L1738.0,1236.5 L1740.0,1236.5 L1742.0,1236.5 L1744.0,1236.5 L1746.0,1236.5 L1748.0,1236.4 L1750.0,1236.4 L1752.0,1236.4 L1754.0,1236.4 L1756.0,1236.3 L1758.0,1236.3 L1760.0,1236.2 L1762.0,1236.1 L1764.0,1236.0 L1766.0,1235.9 L1768.0,1235.7 L1770.0,1235.4 L1772.0,1235.1 L1774.0,1234.7 L1776.0,1234.3 L1778.0,1233.7 L1780.0,1233.1 L1782.0,1232.3 L1784.0,1231.6 L1786.0,1230.8 L1788.0,1229.9 L1790.0,1229.2 L1792.0,1228.4 L1794.0,1227.8 L1796.0,1227.2 L1798.0,1226.8 L1800.0,1226.4 L1802.0,1226.1 L1804.0,1225.8 L1806.0,1225.6 L1808.0,1225.5 L1810.0,1225.0 L1812.0,1225.0 L1814.0,1225.0 L1816.0,1224.9 L1818.0,1224.9 L1820.0,1224.9 L1822.0,1224.9 L1824.0,1224.8 L1826.0,1224.8 L1828.0,1224.8 L1830.0,1224.8 L1832.0,1224.8 L1834.0,1224.7 L1836.0,1224.7 L1838.0,1224.7 L1840.0,1224.7 L1842.0,1224.7 L1844.0,1224.6 L1846.0,1224.6 L1848.0,1224.6 L1850.0,1224.6 L1852.0,1224.5 L1854.0,1224.5 L1856.0,1224.5 L1858.0,1224.5 L1860.0,1224.5 L1862.0,1224.4 L1864.0,1224.4 L1866.0,1224.4 L1868.0,1224.4 L1870.0,1224.3 L1872.0,1224.3 L1874.0,1224.3 L1876.0,1224.3 L1878.0,1224.3 L1880.0,1224.2 L1882.0,1224.2 L1884.0,1224.2 L1886.0,1224.2 L1888.0,1224.2 L1890.0,1224.1 L1892.0,1224.1 L1894.0,1224.1 L1896.0,1224.1 L1898.0,1224.0 L1900.0,1224.0 L1902.0,1224.0 L1904.0,1224.0 L1906.0,1224.0 L1908.0,1223.9 L1910.0,1223.9 L1912.0,1223.9 L1914.0,1223.9 L1916.0,1223.9 L1918.0,1223.8 L1920.0,1223.8 L1922.0,1223.8 L1924.0,1223.8 L1926.0,1223.7 L1928.0,1223.7 L1930.0,1223.7 L1932.0,1223.7 L1934.0,1223.7 L1936.0,1223.6 L1938.0,1223.6 L1940.0,1223.6 L1942.0,1223.6 L1944.0,1223.5 L1946.0,1223.5 L1948.0,1223.5 L1950.0,1223.5 L1952.0,1223.5 L1954.0,1223.4 L1956.0,1223.4 L1958.0,1223.4 L1960.0,1223.4 L1962.0,1223.4 L1964.0,1223.3 L1966.0,1223.3 L1968.0,1223.3 L1970.0,1223.3 L1972.0,1223.2 L1974.0,1223.2 L1976.0,1223.2 L1978.0,1223.2 L1980.0,1223.2 L1982.0,1223.1 L1984.0,1223.1 L1986.0,1223.1 L1988.0,1223.1 L1990.0,1223.0 L1992.0,1223.0 L1994.0,1223.0 L1996.0,1223.0 L1998.0,1223.0 L2000.0,1222.9 L2002.0,1222.9 L2004.0,1222.9 L2006.0,1222.9 L2008.0,1222.9 L2010.0,1222.8 L2012.0,1222.8 L2014.0,1222.8 L2016.0,1222.8 L2018.0,1222.7 L2020.0,1222.7 L2022.0,1222.7 L2024.0,1222.7 L2026.0,1222.7 L2028.0,1222.6 L2030.0,1222.6 L2032.0,1222.6 L2034.0,1222.6 L2036.0,1222.5 L2038.0,1222.5 L2040.0,1222.5 L2042.0,1222.5 L2044.0,1222.5 L2046.0,1222.4 L2048.0,1222.4 L2050.0,1222.4 L2052.0,1222.4 L2054.0,1222.4 L2056.0,1222.3 L2058.0,1222.3 L2060.0,1222.3 L2062.0,1222.3 L2064.0,1222.2 L2066.0,1222.2 L2068.0,1222.2 L2070.0,1222.2 L2072.0,1222.2 L2074.0,1222.1 L2076.0,1222.1 L2078.0,1222.1 L2080.0,1222.1 L2082.0,1222.1 L2084.0,1222.0 L2086.0,1222.0 L2088.0,1222.0 L2090.0,1222.0 L2092.0,1221.9 L2094.0,1221.9 L2096.0,1221.9 L2098.0,1221.9 L2100.0,1221.9 L2102.0,1221.8 L2104.0,1221.8 L2106.0,1221.8 L2108.0,1221.8 L2110.0,1221.7 L2112.0,1221.7 L2114.0,1221.7 L2116.0,1221.7 L2118.0,1221.7 L2120.0,1221.6 L2122.0,1221.6 L2124.0,1221.6 L2126.0,1221.6 L2128.0,1221.6 L2130.0,1221.5 L2132.0,1221.5 L2134.0,1221.5 L2136.0,1221.5 L2138.0,1221.4 L2140.0,1221.4 L2142.0,1221.4 L2144.0,1221.4 L2146.0,1221.4 L2148.0,1221.3 L2150.0,1221.3 L2152.0,1221.3 L2154.0,1221.3 L2156.0,1221.2 L2158.0,1221.2 L2160.0,1221.2 L2162.0,1221.2 L2164.0,1221.2 L2166.0,1221.1 L2168.0,1221.1 L2170.0,1221.1 L2172.0,1221.1 L2174.0,1221.1 L2176.0,1221.0 L2178.0,1221.0 L2180.0,1221.0 L2182.0,1221.0 L2184.0,1220.9 L2186.0,1220.9 L2188.0,1220.9 L2190.0,1220.9 L2192.0,1220.9 L2194.0,1220.8 L2196.0,1220.8 L2198.0,1220.8 L2200.0,1220.8 L2202.0,1220.7 L2204.0,1220.7 L2206.0,1220.7 L2208.0,1220.7 L2210.0,1220.7 L2212.0,1220.6 L2214.0,1220.6 L2216.0,1220.6 L2218.0,1220.6 L2220.0,1220.6 L2222.0,1220.5 L2224.0,1220.5 L2226.0,1220.4 L2228.0,1220.3 L2230.0,1220.2 L2232.0,1220.2 L2234.0,1220.1 L2236.0,1219.9 L2238.0,1219.8 L2240.0,1219.6 L2242.0,1219.4 L2244.0,1219.1 L2246.0,1218.8 L2248.0,1218.4 L2250.0,1217.9 L2252.0,1217.2 L2254.0,1216.5 L2256.0,1215.7 L2258.0,1214.7 L2260.0,1213.6 L2262.0,1212.5 L2264.0,1211.2 L2266.0,1209.9 L2268.0,1208.6 L2270.0,1207.4 L2272.0,1206.2 L2274.0,1205.1 L2276.0,1204.2 L2278.0,1203.3 L2280.0,1202.6 L2282.0,1202.0 L2284.0,1201.5 L2286.0,1201.1 L2288.0,1200.7 L2290.0,1200.5 L2292.0,1200.2 L2294.0,1200.0 L2296.0,1199.9 L2298.0,1199.8 L2300.0,1199.7 L2302.0,1199.6 L2304.0,1199.5 L2306.0,1199.5 L2308.0,1199.4 L2310.0,1199.4 L2312.0,1199.4 L2314.0,1199.3 L2316.0,1199.3 L2318.0,1199.3 L2320.0,1199.3 L2322.0,1199.2 L2324.0,1199.2 L2326.0,1199.2 L2328.0,1199.2 L2330.0,1199.2 L2332.0,1199.1 L2334.0,1199.1 L2336.0,1199.1 L2338.0,1199.1 L2340.0,1199.1 L2342.0,1199.1 L2344.0,1199.0 L2346.0,1199.0 L2348.0,1199.0 L2350.0,1199.0 L2352.0,1199.0 L2354.0,1199.0 L2356.0,1199.0 L2358.0,1198.9 L2360.0,1198.9 L2362.0,1198.9 L2364.0,1198.9 L2366.0,1198.9 L2368.0,1198.9 L2370.0,1198.8 L2372.0,1198.8 L2374.0,1198.8 L2376.0,1198.8 L2378.0,1198.8 L2380.0,1198.8 L2382.0,1198.7 L2384.0,1198.7 L2386.0,1198.7 L2388.0,1198.7 L2390.0,1198.7 L2392.0,1198.7 L2394.0,1198.6 L2396.0,1198.6 L2398.0,1198.6 L2400.0,1198.6 L2402.0,1198.6 L2404.0,1198.6 L2406.0,1198.6 L2408.0,1198.5 L2410.0,1198.5 L2412.0,1198.5 L2414.0,1198.5 L2416.0,1198.5" fill="none" stroke="#e58cf2" stroke-width="3.2"/>
<path d="M2212.0,1220.4 L2212.5,1220.4 L2213.0,1220.3 L2213.5,1220.3 L2214.0,1220.3 L2214.5,1220.2 L2215.0,1220.1 L2215.5,1220.1 L2216.0,1220.0 L2216.5,1219.9 L2217.0,1219.8 L2217.5,1219.7 L2218.0,1219.6 L2218.5,1219.5 L2219.0,1219.3 L2219.5,1219.2 L2220.0,1219.0 L2220.5,1218.8 L2221.0,1218.6 L2221.5,1218.4 L2222.0,1218.1 L2222.5,1217.9 L2223.0,1217.6 L2223.5,1217.2 L2224.0,1216.9 L2224.5,1216.5 L2225.0,1215.9 L2225.5,1215.5 L2226.0,1214.9 L2226.5,1214.4 L2227.0,1213.8 L2227.5,1213.1 L2228.0,1212.4 L2228.5,1211.6 L2229.0,1210.8 L2229.5,1209.9 L2230.0,1209.0 L2230.5,1207.9 L2231.0,1206.8 L2231.5,1205.7 L2232.0,1204.4 L2232.5,1203.1 L2233.0,1201.6 L2233.5,1200.1 L2234.0,1198.5 L2234.5,1196.7 L2235.0,1194.9 L2235.5,1193.0 L2236.0,1191.0 L2236.5,1188.8 L2237.0,1186.5 L2237.5,1184.1 L2238.0,1181.6 L2238.5,1179.0 L2239.0,1176.3 L2239.5,1173.4 L2240.0,1170.4 L2240.5,1167.3 L2241.0,1164.1 L2241.5,1160.7 L2242.0,1157.3 L2242.5,1153.7 L2243.0,1150.0 L2243.5,1146.1 L2244.0,1142.2 L2244.5,1138.2 L2245.0,1134.1 L2245.5,1129.8 L2246.0,1125.5 L2246.5,1121.1 L2247.0,1116.7 L2247.5,1112.1 L2248.0,1107.6 L2248.5,1102.9 L2249.0,1098.3 L2249.5,1093.6 L2250.0,1088.9 L2250.5,1084.1 L2251.0,1079.4 L2251.5,1074.8 L2252.0,1070.1 L2252.5,1065.5 L2253.0,1060.9 L2253.5,1056.5 L2254.0,1052.1 L2254.5,1047.8 L2255.0,1043.6 L2255.5,1039.5 L2256.0,1035.6 L2256.5,1031.8 L2257.0,1028.2 L2257.5,1024.8 L2258.0,1021.5 L2258.5,1018.4 L2259.0,1015.6 L2259.5,1012.9 L2260.0,1010.5 L2260.5,1008.3 L2261.0,1006.4 L2261.5,1004.7 L2262.0,1003.2 L2262.5,1002.0 L2263.0,1001.1 L2263.5,1000.4 L2264.0,1000.0 L2264.5,999.9 L2265.0,999.9 L2265.5,1000.2 L2266.0,1000.7 L2266.5,1001.3 L2267.0,1002.2 L2267.5,1003.3 L2268.0,1004.6 L2268.5,1006.1 L2269.0,1007.8 L2269.5,1009.7 L2270.0,1011.7 L2270.5,1014.0 L2271.0,1016.4 L2271.5,1018.9 L2272.0,1021.7 L2272.5,1024.5 L2273.0,1027.5 L2273.5,1030.6 L2274.0,1033.9 L2274.5,1037.2 L2275.0,1040.7 L2275.5,1044.2 L2276.0,1047.8 L2276.5,1051.5 L2277.0,1055.3 L2277.5,1059.1 L2278.0,1063.0 L2278.5,1066.8 L2279.0,1070.8 L2279.5,1074.7 L2280.0,1078.6 L2280.5,1082.5 L2281.0,1086.5 L2281.5,1090.4 L2282.0,1094.3 L2282.5,1098.1 L2283.0,1101.9 L2283.5,1105.7 L2284.0,1109.4 L2284.5,1113.1 L2285.0,1116.7 L2285.5,1120.2 L2286.0,1123.6 L2286.5,1127.0 L2287.0,1130.3 L2287.5,1133.6 L2288.0,1136.7 L2288.5,1139.7 L2289.0,1142.7 L2289.5,1145.6 L2290.0,1148.4 L2290.5,1151.0 L2291.0,1153.6 L2291.5,1156.1 L2292.0,1158.5 L2292.5,1160.8 L2293.0,1163.1 L2293.5,1165.2 L2294.0,1167.2 L2294.5,1169.2 L2295.0,1171.0 L2295.5,1172.8 L2296.0,1174.5 L2296.5,1176.1 L2297.0,1177.6 L2297.5,1179.0 L2298.0,1180.4 L2298.5,1181.7 L2299.0,1182.9 L2299.5,1184.1 L2300.0,1185.2 L2300.5,1186.2 L2301.0,1187.2 L2301.5,1188.1 L2302.0,1188.9 L2302.5,1189.7 L2303.0,1190.4 L2303.5,1191.1 L2304.0,1191.8 L2304.5,1192.4 L2305.0,1192.9 L2305.5,1193.5 L2306.0,1194.0 L2306.5,1194.4 L2307.0,1194.8 L2307.5,1195.2 L2308.0,1195.6 L2308.5,1195.9 L2309.0,1196.2 L2309.5,1196.5 L2310.0,1196.7 L2310.5,1197.0 L2311.0,1197.2 L2311.5,1197.4 L2312.0,1197.5 L2312.5,1197.7 L2313.0,1197.9 L2313.5,1198.0 L2314.0,1198.1 L2314.5,1198.2 L2315.0,1198.3 L2315.5,1198.4 L2316.0,1198.5 L2316.5,1198.6 L2317.0,1198.7 L2317.5,1198.7 L2318.0,1198.8 L2318.5,1198.8 L2319.0,1198.9 L2319.5,1198.9 L2320.0,1198.9" fill="none" stroke="#b447f2" stroke-width="3.0"/>
<g fill="#36ecf0"><circle cx="1716.0" cy="1227.3" r="2.4"/><circle cx="1731.3" cy="1225.4" r="2.4"/><circle cx="1740.7" cy="1213.0" r="2.4"/><circle cx="1749.6" cy="1197.0" r="2.4"/><circle cx="1754.0" cy="1172.7" r="2.4"/><circle cx="1756.8" cy="1149.6" r="2.4"/><circle cx="1759.0" cy="1125.4" r="2.4"/><circle cx="1762.5" cy="1100.4" r="2.4"/><circle cx="1763.4" cy="1076.7" r="2.4"/><circle cx="1764.0" cy="1052.7" r="2.4"/><circle cx="1765.3" cy="1028.4" r="2.4"/><circle cx="1766.3" cy="1003.8" r="2.4"/><circle cx="1768.0" cy="979.5" r="2.4"/><circle cx="1769.6" cy="955.0" r="2.4"/><circle cx="1771.2" cy="930.5" r="2.4"/><circle cx="1772.9" cy="906.0" r="2.4"/><circle cx="1775.0" cy="881.5" r="2.4"/><circle cx="1777.0" cy="857.0" r="2.4"/><circle cx="1779.2" cy="833.0" r="2.4"/><circle cx="1782.0" cy="812.6" r="2.4"/><circle cx="1785.5" cy="833.0" r="2.4"/><circle cx="1787.8" cy="857.0" r="2.4"/><circle cx="1790.0" cy="881.5" r="2.4"/><circle cx="1792.5" cy="906.0" r="2.4"/><circle cx="1794.5" cy="930.5" r="2.4"/><circle cx="1796.2" cy="955.0" r="2.4"/><circle cx="1797.8" cy="979.5" r="2.4"/><circle cx="1798.6" cy="1002.5" r="2.4"/><circle cx="1799.4" cy="1026.5" r="2.4"/><circle cx="1801.3" cy="1051.1" r="2.4"/><circle cx="1803.2" cy="1074.8" r="2.4"/><circle cx="1805.1" cy="1098.5" r="2.4"/><circle cx="1807.0" cy="1122.7" r="2.4"/><circle cx="1811.4" cy="1146.8" r="2.4"/><circle cx="1816.0" cy="1170.5" r="2.4"/><circle cx="1823.1" cy="1190.3" r="2.4"/><circle cx="1834.5" cy="1202.3" r="2.4"/><circle cx="1844.0" cy="1198.9" r="2.4"/><circle cx="1853.0" cy="1200.4" r="2.4"/><circle cx="1865.7" cy="1209.8" r="2.4"/><circle cx="1875.2" cy="1214.0" r="2.4"/><circle cx="1886.2" cy="1217.4" r="2.4"/><circle cx="1897.0" cy="1222.5" r="2.4"/><circle cx="1914.5" cy="1219.5" r="2.4"/><circle cx="1922.2" cy="1214.6" r="2.4"/><circle cx="1931.7" cy="1218.7" r="2.4"/><circle cx="1953.8" cy="1221.1" r="2.4"/><circle cx="1979.3" cy="1221.9" r="2.4"/><circle cx="1993.2" cy="1222.3" r="2.4"/><circle cx="2002.2" cy="1221.5" r="2.4"/><circle cx="2015.8" cy="1220.7" r="2.4"/><circle cx="2030.1" cy="1215.8" r="2.4"/><circle cx="2052.3" cy="1221.1" r="2.4"/><circle cx="2063.8" cy="1215.8" r="2.4"/><circle cx="2076.1" cy="1218.7" r="2.4"/><circle cx="2088.9" cy="1214.0" r="2.4"/><circle cx="2100.9" cy="1216.5" r="2.4"/><circle cx="2111.7" cy="1210.5" r="2.4"/><circle cx="2123.7" cy="1219.0" r="2.4"/><circle cx="2138.1" cy="1209.3" r="2.4"/><circle cx="2150.2" cy="1209.3" r="2.4"/><circle cx="2167.0" cy="1204.5" r="2.4"/><circle cx="2180.2" cy="1202.1" r="2.4"/><circle cx="2191.0" cy="1205.7" r="2.4"/><circle cx="2204.3" cy="1205.7" r="2.4"/><circle cx="2215.8" cy="1198.5" r="2.4"/><circle cx="2229.5" cy="1190.0" r="2.4"/><circle cx="2235.5" cy="1166.0" r="2.4"/><circle cx="2241.5" cy="1142.0" r="2.4"/><circle cx="2245.1" cy="1118.0" r="2.4"/><circle cx="2250.0" cy="1096.3" r="2.4"/><circle cx="2252.4" cy="1071.0" r="2.4"/><circle cx="2256.0" cy="1047.0" r="2.4"/><circle cx="2259.6" cy="1023.0" r="2.4"/><circle cx="2263.9" cy="1000.1" r="2.4"/><circle cx="2268.5" cy="1012.0" r="2.4"/><circle cx="2271.6" cy="1036.2" r="2.4"/><circle cx="2275.2" cy="1060.2" r="2.4"/><circle cx="2278.8" cy="1084.3" r="2.4"/><circle cx="2282.4" cy="1108.3" r="2.4"/><circle cx="2287.2" cy="1132.4" r="2.4"/><circle cx="2293.2" cy="1156.4" r="2.4"/><circle cx="2302.8" cy="1170.8" r="2.4"/><circle cx="2312.5" cy="1185.3" r="2.4"/><circle cx="2323.3" cy="1176.8" r="2.4"/><circle cx="2331.7" cy="1179.2" r="2.4"/><circle cx="2341.3" cy="1185.3" r="2.4"/><circle cx="2347.3" cy="1185.3" r="2.4"/><circle cx="2361.8" cy="1191.3" r="2.4"/><circle cx="2377.4" cy="1196.1" r="2.4"/><circle cx="2387.0" cy="1193.7" r="2.4"/><circle cx="2399.0" cy="1196.5" r="2.4"/><circle cx="2411.0" cy="1197.0" r="2.4"/></g>
<rect x="1707.5" y="712.0" width="710.0" height="548.0" fill="none" stroke="#646464" stroke-width="4.0"/>
<path d="M1750.6,1260.0 L1750.6,1270.0 M1958.3,1260.0 L1958.3,1270.0 M2166.0,1260.0 L2166.0,1270.0 M2373.7,1260.0 L2373.7,1270.0 M1750.6,1260.0 L1750.6,1265.5 M1854.4,1260.0 L1854.4,1265.5 M2062.2,1260.0 L2062.2,1265.5 M2269.8,1260.0 L2269.8,1265.5" stroke="#646464" stroke-width="3.2" fill="none"/>
<text x="1750.6" y="1299.7" font-size="28" font-weight="bold" text-anchor="middle" fill="#161616">1020</text>
<text x="1958.3" y="1299.7" font-size="28" font-weight="bold" text-anchor="middle" fill="#161616">1030</text>
<text x="2166.0" y="1299.7" font-size="28" font-weight="bold" text-anchor="middle" fill="#161616">1040</text>
<text x="2373.7" y="1299.7" font-size="28" font-weight="bold" text-anchor="middle" fill="#161616">1050</text>
<text x="1916.0" y="1349.3" font-size="30.65" font-weight="bold" fill="#161616" >Binding Energy (eV)</text>
<text transform="translate(1698.4,1051.0) rotate(-90)" font-size="30.58" font-weight="bold" fill="#161616">Counts/s</text>
<text x="1717.5" y="796.7" font-size="29.5" font-weight="bold" fill="#111">Zn 2p<tspan font-size="17" dy="7">3/2</tspan><tspan dy="-7"> 1021.59 eV</tspan></text>
<text x="2079.2" y="978.5" font-size="29.5" font-weight="bold" fill="#111">Zn 2p<tspan font-size="17" dy="7">1/2</tspan><tspan dy="-7"> 1044.6 eV</tspan></text>
</svg>
</body></html>
